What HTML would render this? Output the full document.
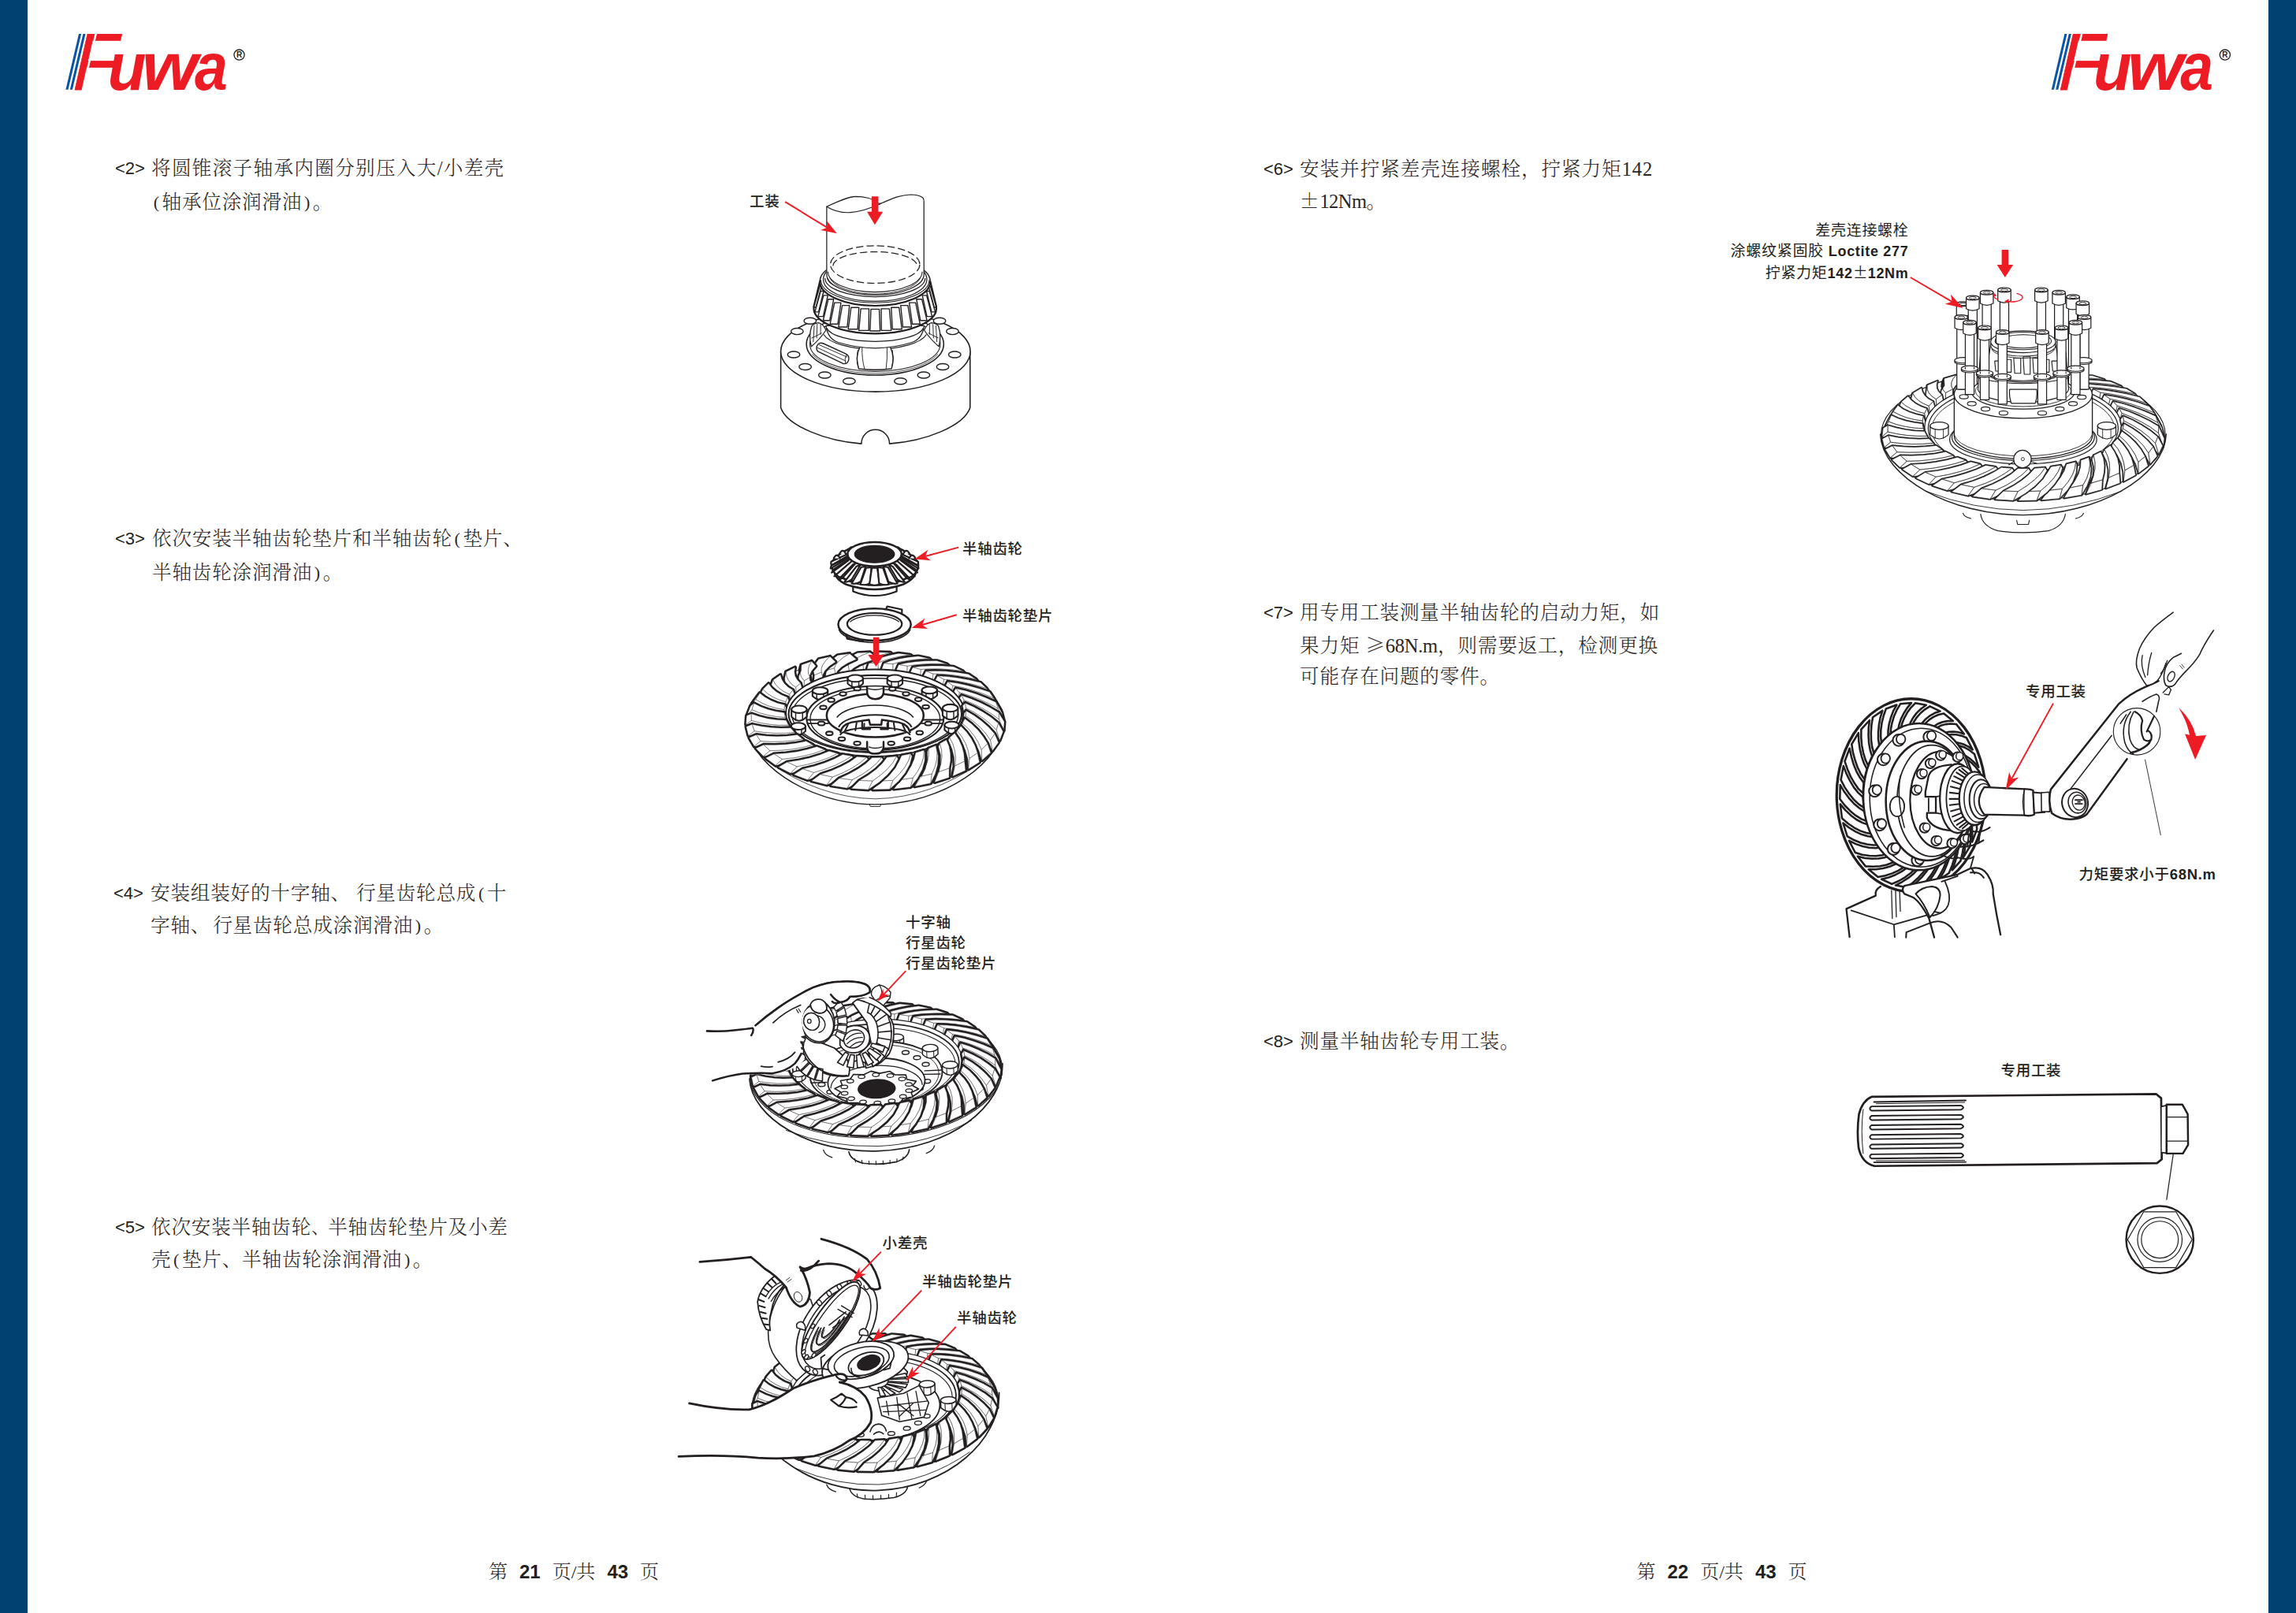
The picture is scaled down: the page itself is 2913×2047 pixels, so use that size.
<!DOCTYPE html>
<html lang="zh"><head><meta charset="utf-8"><title>Fuwa</title><style>
*{margin:0;padding:0;box-sizing:border-box}
html,body{width:2913px;height:2047px;background:#fff;overflow:hidden}
body{position:relative;font-family:"Liberation Serif","Noto Serif CJK SC",serif;color:#231f20}
.bar{position:absolute;top:0;height:2047px;background:#014171}
.t{position:absolute;white-space:nowrap;font-size:24.6px;line-height:43px;height:43px;font-weight:300;letter-spacing:0.8px;text-align:justify;text-align-last:justify;color:#2a2526}
.t.nj{text-align:left;text-align-last:left}
.p{display:inline-block;font-size:22px;position:relative;top:-1.5px;text-align:center;text-align-last:center;overflow:visible}
.fw{font-family:'Noto Serif CJK SC',serif;font-feature-settings:'fwid'}
.n{position:absolute;white-space:nowrap;font-family:"Liberation Sans","Noto Sans CJK SC",sans-serif;font-size:22px;line-height:43px;height:43px;color:#231f20}
.lb{position:absolute;white-space:nowrap;font-family:"Liberation Sans","Noto Sans CJK SC",sans-serif;font-size:18.5px;line-height:26px;color:#231f20;font-weight:500;letter-spacing:0.7px;margin-top:0.6px}
.pm{font-family:"Noto Sans CJK SC",sans-serif;display:inline-block;width:19px;text-align:center}
.ft{position:absolute;white-space:nowrap;font-size:24px;line-height:30px;color:#2a2526;word-spacing:9px;font-weight:300}
.ft b{font-family:"Liberation Sans",sans-serif;font-weight:700;font-size:24px;color:#231f20}
svg{position:absolute;left:0;top:0;overflow:visible}
</style></head><body>
<div class="bar" style="left:0;width:35px"></div>
<div class="bar" style="left:2878px;width:35px"></div>
<div class="n" style="left:146px;top:191.5px">&lt;2&gt;</div>
<div class="t" style="left:192px;top:192px;width:448px">将圆锥滚子轴承内圈分别压入大/小差壳</div>
<div class="t nj" style="left:192px;top:235px"><span class="p" style="width:13.5px">(</span>轴承位涂润滑油<span class="p" style="width:13.5px">)</span>。</div>
<div class="n" style="left:146px;top:661.5px">&lt;3&gt;</div>
<div class="t" style="left:193px;top:662px;width:455px">依次安装半轴齿轮垫片和半轴齿轮<span class="p" style="width:13.5px">(</span>垫片、</div>
<div class="t nj" style="left:193px;top:705px">半轴齿轮涂润滑油<span class="p" style="width:13.5px">)</span>。</div>
<div class="n" style="left:144px;top:1111.5px">&lt;4&gt;</div>
<div class="t" style="left:191px;top:1112px;width:448px">安装组装好的十字轴、 行星齿轮总成<span class="p" style="width:13.5px">(</span>十</div>
<div class="t nj" style="left:191px;top:1153px">字轴、<span style="margin-left:3px"></span>行星齿轮总成涂润滑油<span class="p" style="width:13.5px">)</span>。</div>
<div class="n" style="left:146px;top:1535.5px">&lt;5&gt;</div>
<div class="t" style="left:192px;top:1536px;width:449px">依次安装半轴齿轮<span class="p" style="width:21px;text-align:left">、</span>半轴齿轮垫片及小差</div>
<div class="t nj" style="left:192px;top:1577px">壳<span class="p" style="width:13.5px">(</span>垫片、半轴齿轮涂润滑油<span class="p" style="width:13.5px">)</span>。</div>
<div class="n" style="left:1603px;top:192.5px">&lt;6&gt;</div>
<div class="t" style="left:1649px;top:193px;width:448px">安装并拧紧差壳连接螺栓，拧紧力矩142</div>
<div class="t nj" style="left:1649px;top:231.5px"><span class="fw">±</span><span style="letter-spacing:-0.6px">12Nm</span>。</div>
<div class="n" style="left:1603px;top:755.5px">&lt;7&gt;</div>
<div class="t" style="left:1649px;top:756px;width:455px">用专用工装测量半轴齿轮的启动力矩，如</div>
<div class="t" style="left:1649px;top:796px;width:455px">果力矩<span class="fw" style="margin-left:7px">≥</span><span style="letter-spacing:-0.3px">68N.m</span>，则需要返工，检测更换</div>
<div class="t nj" style="left:1649px;top:837px">可能存在问题的零件。</div>
<div class="n" style="left:1603px;top:1299.5px">&lt;8&gt;</div>
<div class="t nj" style="left:1649px;top:1300px">测量半轴齿轮专用工装。</div>
<div class="ft" style="left:620px;top:1980px">第 <b>21</b> 页/共 <b>43</b> 页</div>
<div class="ft" style="left:2076.5px;top:1980px">第 <b>22</b> 页/共 <b>43</b> 页</div>
<svg width="2913" height="2047" viewBox="0 0 2913 2047">
<polygon points="83.4,113.8 86.5,113.8 103.1,43.0 100.0,43.0" fill="#0a55a3"/>
<polygon points="88.8,113.8 91.9,113.8 108.5,43.0 105.4,43.0" fill="#0a55a3"/>
<text x="0" y="0" font-family="Liberation Sans, sans-serif" font-style="italic" font-weight="400" font-size="98.5" fill="#ed1c24" stroke="#ed1c24" stroke-width="0.8" stroke-linejoin="round" transform="translate(92.2 113.8) skewX(-3.3) scale(0.9 1.04)">F</text>
<polygon points="120.6,42.0 123.2,42.0 112.4,88.0 109.8,88.0" fill="#fff"/>
<text x="0" y="0" font-family="Liberation Sans, sans-serif" font-style="italic" font-weight="700" font-size="85.5" fill="#ed1c24" transform="translate(136.7 113.8) scale(0.93 1)">u</text>
<text x="0" y="0" font-family="Liberation Sans, sans-serif" font-style="italic" font-weight="700" font-size="85.5" fill="#ed1c24" transform="translate(179.9 113.8) scale(1.07 1)">w</text>
<text x="0" y="0" font-family="Liberation Sans, sans-serif" font-style="italic" font-weight="700" font-size="85.5" fill="#ed1c24" transform="translate(246.9 113.8) scale(0.88 1)">a</text>
<circle cx="303.5" cy="69.6" r="6.6" fill="none" stroke="#231f20" stroke-width="1.3"/>
<text x="303.5" y="73.2" text-anchor="middle" font-family="Liberation Sans, sans-serif" font-size="10" font-weight="700" fill="#231f20">R</text>
<polygon points="2602.8,113.8 2605.9,113.8 2622.5,43.0 2619.4,43.0" fill="#0a55a3"/>
<polygon points="2608.2,113.8 2611.3,113.8 2627.9,43.0 2624.8,43.0" fill="#0a55a3"/>
<text x="0" y="0" font-family="Liberation Sans, sans-serif" font-style="italic" font-weight="400" font-size="98.5" fill="#ed1c24" stroke="#ed1c24" stroke-width="0.8" stroke-linejoin="round" transform="translate(2611.6 113.8) skewX(-3.3) scale(0.9 1.04)">F</text>
<polygon points="2640.0,42.0 2642.6,42.0 2631.8,88.0 2629.2,88.0" fill="#fff"/>
<text x="0" y="0" font-family="Liberation Sans, sans-serif" font-style="italic" font-weight="700" font-size="85.5" fill="#ed1c24" transform="translate(2656.1 113.8) scale(0.93 1)">u</text>
<text x="0" y="0" font-family="Liberation Sans, sans-serif" font-style="italic" font-weight="700" font-size="85.5" fill="#ed1c24" transform="translate(2699.3 113.8) scale(1.07 1)">w</text>
<text x="0" y="0" font-family="Liberation Sans, sans-serif" font-style="italic" font-weight="700" font-size="85.5" fill="#ed1c24" transform="translate(2766.3 113.8) scale(0.88 1)">a</text>
<circle cx="2822.9" cy="69.6" r="6.6" fill="none" stroke="#231f20" stroke-width="1.3"/>
<text x="2822.9" y="73.2" text-anchor="middle" font-family="Liberation Sans, sans-serif" font-size="10" font-weight="700" fill="#231f20">R</text>
</svg>

<svg width="2913" height="2047" viewBox="0 0 2913 2047">
<g transform="translate(800 150) scale(0.30992)">
<path d="M615,955 L615,1185 C640,1260 800,1322 945,1333 A57,57 0 0 1 1060,1333 C1210,1322 1365,1260 1390,1185 L1390,955" fill="#fff" stroke="#231f20" stroke-width="5" stroke-linejoin="round" stroke-linecap="round" />
<ellipse cx="1003" cy="955" rx="388" ry="165" fill="#fff" stroke="#231f20" stroke-width="5"/>
<ellipse cx="1001" cy="925" rx="281" ry="127" fill="none" stroke="#231f20" stroke-width="5" />
<ellipse cx="1001" cy="925" rx="267" ry="112" fill="none" stroke="#231f20" stroke-width="3.5" />
<path d="M1258.5,966.0 A274,120 0 0 1 743.5,966.0" fill="none" stroke="#231f20" stroke-width="2.5" />
<ellipse cx="735" cy="830" rx="25" ry="13" fill="#fff" stroke="#231f20" stroke-width="4.5"/>
<ellipse cx="682" cy="873" rx="25" ry="13" fill="#fff" stroke="#231f20" stroke-width="4.5"/>
<ellipse cx="668" cy="968" rx="25" ry="13" fill="#fff" stroke="#231f20" stroke-width="4.5"/>
<ellipse cx="715" cy="1018" rx="25" ry="13" fill="#fff" stroke="#231f20" stroke-width="4.5"/>
<ellipse cx="795" cy="1052" rx="25" ry="13" fill="#fff" stroke="#231f20" stroke-width="4.5"/>
<ellipse cx="895" cy="1077" rx="25" ry="13" fill="#fff" stroke="#231f20" stroke-width="4.5"/>
<ellipse cx="1105" cy="1077" rx="25" ry="13" fill="#fff" stroke="#231f20" stroke-width="4.5"/>
<ellipse cx="1200" cy="1052" rx="25" ry="13" fill="#fff" stroke="#231f20" stroke-width="4.5"/>
<ellipse cx="1278" cy="1018" rx="25" ry="13" fill="#fff" stroke="#231f20" stroke-width="4.5"/>
<ellipse cx="1327" cy="968" rx="25" ry="13" fill="#fff" stroke="#231f20" stroke-width="4.5"/>
<ellipse cx="1318" cy="873" rx="25" ry="13" fill="#fff" stroke="#231f20" stroke-width="4.5"/>
<ellipse cx="1265" cy="830" rx="25" ry="13" fill="#fff" stroke="#231f20" stroke-width="4.5"/>
<path d="M1211.3,885.8 A215,76 0 0 1 790.7,885.8" fill="none" stroke="#231f20" stroke-width="4" />
<path d="M742,850 Q728,890 740,935 Q775,905 800,868 Q790,845 772,838 Q755,838 742,850 Z" fill="#fff" stroke="#231f20" stroke-width="4" stroke-linejoin="round" stroke-linecap="round" />
<path d="M752,850 L748,915 M764,844 L762,900 M778,842 L778,885 M742,900 Q765,890 782,880" fill="none" stroke="#231f20" stroke-width="3" stroke-linejoin="round" stroke-linecap="round" />
<path d="M1260,850 Q1274,890 1262,935 Q1227,905 1202,868 Q1212,845 1230,838 Q1247,838 1260,850 Z" fill="#fff" stroke="#231f20" stroke-width="4" stroke-linejoin="round" stroke-linecap="round" />
<path d="M1250,850 L1254,915 M1238,844 L1240,900 M1224,842 L1224,885 M1260,900 Q1237,890 1220,880" fill="none" stroke="#231f20" stroke-width="3" stroke-linejoin="round" stroke-linecap="round" />
<path d="M940,934 Q1001,924 1062,934 Q1084,980 1068,1026 Q1001,1034 934,1026 Q918,980 940,934 Z" fill="#fff" stroke="#231f20" stroke-width="4.5" stroke-linejoin="round" stroke-linecap="round" />
<path d="M948,936 Q946,985 958,1027 M1050,936 Q1052,985 1046,1027" fill="none" stroke="#231f20" stroke-width="3" stroke-linejoin="round" stroke-linecap="round" />
<path d="M930,950 Q922,985 932,1018 M1072,950 Q1080,985 1070,1018" fill="none" stroke="#231f20" stroke-width="3" stroke-linejoin="round" stroke-linecap="round" />
<path d="M768,925 Q756,940 766,955 L870,1005 Q888,1008 893,990 Q896,972 882,965 L788,922 Q776,918 768,925 Z" fill="#fff" stroke="#231f20" stroke-width="4.5" stroke-linejoin="round" stroke-linecap="round" />
<path d="M766,940 L876,992 M772,928 L886,978 M884,968 Q874,985 880,1004" fill="none" stroke="#231f20" stroke-width="3" stroke-linejoin="round" stroke-linecap="round" />
<path d="M800,850 Q808,905 850,918 Q1001,965 1152,918 Q1194,905 1202,850 Z" fill="#fff" stroke="#231f20" stroke-width="4" stroke-linejoin="round" stroke-linecap="round" />
<path d="M1199.1,858.9 A200,64 0 0 1 802.9,858.9" fill="none" stroke="#231f20" stroke-width="4" />
<path d="M775,669 L751,780 A250,104 0 0 0 1251,780 L1227,669 Z" fill="#fff" stroke="#231f20" stroke-width="0" stroke-linejoin="round" stroke-linecap="round" />
<path d="M1251.4,770.7 A251,104 0 1 1 750.6,770.7" fill="none" stroke="#231f20" stroke-width="7" />
<path d="M1227.0,669.0 A226,99 0 0 1 775.0,669.0" fill="none" stroke="#231f20" stroke-width="7" />
<path d="M1223.0,662.0 A222,94 0 0 1 779.0,662.0" fill="none" stroke="#231f20" stroke-width="3.5" />
<path d="M775,669 L750,772 M1227,669 L1252,772" fill="none" stroke="#231f20" stroke-width="7" stroke-linejoin="round" stroke-linecap="round" />
<path d="M774.0,689.9 L781.1,689.9 L758.8,774.3 L750.4,774.3 Z" fill="#fff" stroke="#231f20" stroke-width="4.5" stroke-linejoin="round" stroke-linecap="round" />
<path d="M778.2,708.2 L790.6,708.2 L769.6,793.5 L754.7,793.5 Z" fill="#fff" stroke="#231f20" stroke-width="4.5" stroke-linejoin="round" stroke-linecap="round" />
<path d="M790.1,725.6 L807.6,725.6 L788.6,811.8 L767.5,811.8 Z" fill="#fff" stroke="#231f20" stroke-width="4.5" stroke-linejoin="round" stroke-linecap="round" />
<path d="M809.3,741.5 L831.4,741.5 L815.2,828.5 L788.5,828.5 Z" fill="#fff" stroke="#231f20" stroke-width="4.5" stroke-linejoin="round" stroke-linecap="round" />
<path d="M835.1,755.4 L861.3,755.4 L848.3,843.1 L816.7,843.1 Z" fill="#fff" stroke="#231f20" stroke-width="4.5" stroke-linejoin="round" stroke-linecap="round" />
<path d="M866.7,766.7 L896.2,766.7 L887.0,855.0 L851.4,855.0 Z" fill="#fff" stroke="#231f20" stroke-width="4.5" stroke-linejoin="round" stroke-linecap="round" />
<path d="M902.9,775.1 L934.9,775.1 L929.8,863.8 L891.2,863.8 Z" fill="#fff" stroke="#231f20" stroke-width="4.5" stroke-linejoin="round" stroke-linecap="round" />
<path d="M942.5,780.3 L976.0,780.3 L975.1,869.2 L934.7,869.2 Z" fill="#fff" stroke="#231f20" stroke-width="4.5" stroke-linejoin="round" stroke-linecap="round" />
<path d="M984.0,782.0 L1018.0,782.0 L1021.5,871.0 L980.5,871.0 Z" fill="#fff" stroke="#231f20" stroke-width="4.5" stroke-linejoin="round" stroke-linecap="round" />
<path d="M1026.0,780.3 L1059.5,780.3 L1067.3,869.2 L1026.9,869.2 Z" fill="#fff" stroke="#231f20" stroke-width="4.5" stroke-linejoin="round" stroke-linecap="round" />
<path d="M1067.1,775.1 L1099.1,775.1 L1110.8,863.8 L1072.2,863.8 Z" fill="#fff" stroke="#231f20" stroke-width="4.5" stroke-linejoin="round" stroke-linecap="round" />
<path d="M1105.8,766.7 L1135.3,766.7 L1150.6,855.0 L1115.0,855.0 Z" fill="#fff" stroke="#231f20" stroke-width="4.5" stroke-linejoin="round" stroke-linecap="round" />
<path d="M1140.7,755.4 L1166.9,755.4 L1185.3,843.1 L1153.7,843.1 Z" fill="#fff" stroke="#231f20" stroke-width="4.5" stroke-linejoin="round" stroke-linecap="round" />
<path d="M1170.6,741.5 L1192.7,741.5 L1213.5,828.5 L1186.8,828.5 Z" fill="#fff" stroke="#231f20" stroke-width="4.5" stroke-linejoin="round" stroke-linecap="round" />
<path d="M1194.4,725.6 L1211.9,725.6 L1234.5,811.8 L1213.4,811.8 Z" fill="#fff" stroke="#231f20" stroke-width="4.5" stroke-linejoin="round" stroke-linecap="round" />
<path d="M1211.4,708.2 L1223.8,708.2 L1247.3,793.5 L1232.4,793.5 Z" fill="#fff" stroke="#231f20" stroke-width="4.5" stroke-linejoin="round" stroke-linecap="round" />
<path d="M1220.9,689.9 L1228.0,689.9 L1251.6,774.3 L1243.2,774.3 Z" fill="#fff" stroke="#231f20" stroke-width="4.5" stroke-linejoin="round" stroke-linecap="round" />
<path d="M775.0,669.0 A226,99 0 0 1 1227.0,669.0" fill="none" stroke="#231f20" stroke-width="5" />
<ellipse cx="1001" cy="660" rx="212" ry="90" fill="#fff" stroke="#231f20" stroke-width="4"/>
<path d="M1206.0,655.0 A205,76 0 0 1 796.0,655.0" fill="none" stroke="#231f20" stroke-width="4" />
<path d="M1197.0,650.0 A196,66 0 0 1 805.0,650.0" fill="none" stroke="#231f20" stroke-width="3.5" />
<path d="M803,640 L803,362 C850,340 890,322 923,321 C960,321 990,330 1000,340 C1010,350 1020,352 1030,347 C1070,330 1100,315 1146,313 Q1180,313 1197,326 Q1201,332 1201,342 L1201,640 A199,84 0 0 1 803,640 Z" fill="#fff" stroke="#231f20" stroke-width="4" stroke-linejoin="round" stroke-linecap="round" />
<path d="M803,362 C840,385 870,388 900,386 C940,383 975,372 1025,350" fill="none" stroke="#231f20" stroke-width="4" stroke-linejoin="round" stroke-linecap="round" />
<path d="M1194.0,628.0 A193,84 0 0 1 808.0,628.0" fill="none" stroke="#231f20" stroke-width="3.5" />
<path d="M1186.1,653.9 A188,80 0 0 1 815.9,653.9" fill="none" stroke="#231f20" stroke-width="3" />
<ellipse cx="1001" cy="599" rx="183" ry="77" fill="none" stroke="#231f20" stroke-width="4" stroke-dasharray="30 13"/>
<path d="M829,605 A172,58 0 0 1 1173,605" fill="none" stroke="#231f20" stroke-width="4" stroke-dasharray="30 13"/>
<polygon points="987,320 1014.5,320 1014.5,383 1033,383 1000,436 968,383 987,383" fill="#ed1c24"/>
<line x1="632.7" y1="342.3" x2="805.4" y2="448.0" stroke="#ed1c24" stroke-width="6.2"/><polygon points="844.7,472 778.1,458.2 805.4,448.0 802.1,419.0" fill="#ed1c24"/>
</g>
</svg>
<div class="lb" style="left:951px;top:242px">工装</div>

<svg width="2913" height="2047" viewBox="0 0 2913 2047">
<g transform="translate(930 810) scale(0.15679)">
<path d="M105,660 C105,1000 600,1345 1150,1345 C1700,1345 2195,1000 2195,660" fill="#fff" stroke="#231f20" stroke-width="9" stroke-linejoin="round" stroke-linecap="round" />
<path d="M300,1010 Q700,1290 1150,1300 Q1600,1290 2000,1010" fill="none" stroke="#231f20" stroke-width="5" stroke-linejoin="round" stroke-linecap="round" />
<path d="M1105,1345 L1112,1362 L1190,1362 L1196,1345" fill="none" stroke="#231f20" stroke-width="6" stroke-linejoin="round" stroke-linecap="round" />
<ellipse cx="1150" cy="690" rx="1040" ry="540" fill="#fff" stroke="#231f20" stroke-width="6"/>
<g fill="#fff" stroke="#231f20" stroke-linejoin="round"><g stroke-width="30"><path id="b1" d="M1051,204 1089,180 1139,156 1201,135 1274,116 1342,174 1246,190 1165,211 1101,235 1057,261Z M964,270 980,211 1051,204 1057,261Z M980,211 1010,185 1053,159 1108,135 1174,113 1274,116 1201,135 1139,156 1089,180 1051,204Z"/></g><use href="#b1" stroke-width="2.2"/>
<g stroke-width="30"><path id="b2" d="M1173,200 1221,180 1283,162 1354,146 1436,134 1508,198 1402,205 1310,219 1233,237 1176,258Z M1081,259 1100,201 1173,200 1176,258Z M1100,201 1142,178 1197,157 1263,138 1339,122 1436,134 1354,146 1283,162 1221,180 1173,200Z"/></g><use href="#b2" stroke-width="2.2"/>
<g stroke-width="30"><path id="b3" d="M933,217 958,190 996,163 1046,137 1108,113 1170,165 1087,189 1020,216 970,245 941,274Z M852,291 864,230 933,217 941,274Z M864,230 882,202 912,174 955,145 1009,118 1108,113 1046,137 996,163 958,190 933,217Z"/></g><use href="#b3" stroke-width="2.2"/>
<g stroke-width="30"><path id="b4" d="M1294,208 1352,192 1422,179 1502,170 1590,165 1665,235 1552,233 1451,239 1363,249 1294,265Z M1200,258 1221,202 1294,208 1294,265Z M1221,202 1274,183 1339,167 1414,154 1499,145 1590,165 1502,170 1422,179 1352,192 1294,208Z"/></g><use href="#b4" stroke-width="2.2"/>
<g stroke-width="30"><path id="b5" d="M820,241 832,212 858,183 895,153 944,124 998,170 929,201 878,233 844,266 830,297Z M748,321 756,260 820,241 830,297Z M756,260 761,231 778,200 807,168 848,137 944,124 895,153 858,183 832,212 820,241Z"/></g><use href="#b5" stroke-width="2.2"/>
<g stroke-width="30"><path id="b6" d="M1410,225 1477,215 1554,208 1640,206 1732,209 1808,286 1691,274 1583,270 1488,273 1408,282Z M1317,268 1341,213 1410,225 1408,282Z M1341,213 1403,200 1476,189 1558,183 1649,182 1732,209 1640,206 1554,208 1477,215 1410,225Z"/></g><use href="#b6" stroke-width="2.2"/>
<g stroke-width="30"><path id="b7" d="M716,274 715,245 727,214 750,181 785,148 830,191 778,227 743,263 726,297 728,328Z M655,360 659,298 716,274 728,328Z M659,298 651,269 654,237 668,204 694,169 785,148 750,181 727,214 715,245 716,274Z"/></g><use href="#b7" stroke-width="2.2"/>
<g stroke-width="30"><path id="b8" d="M1520,252 1593,248 1676,248 1764,254 1859,265 1932,348 1815,326 1704,313 1603,307 1515,309Z M1430,287 1455,235 1520,252 1515,309Z M1455,235 1525,227 1604,223 1691,224 1785,230 1859,265 1764,254 1676,248 1593,248 1520,252Z"/></g><use href="#b8" stroke-width="2.2"/>
<g stroke-width="30"><path id="b9" d="M576,406 545,378 531,343 533,304 552,262 553,215 543,251 543,285 554,316 576,344Z M624,315 610,287 608,255 616,221 636,186 670,225 636,265 620,303 620,338 638,369Z M576,406 576,344 624,315 638,369Z M576,344 554,316 543,285 543,251 553,215 636,186 616,221 608,255 610,287 624,315Z"/></g><use href="#b9" stroke-width="2.2"/>
<g stroke-width="30"><path id="b10" d="M1620,288 1698,290 1782,298 1872,312 1966,331 2036,420 1920,388 1809,365 1705,351 1612,345Z M1535,316 1562,266 1620,288 1612,345Z M1562,266 1637,264 1720,267 1810,276 1904,290 1966,331 1872,312 1782,298 1698,290 1620,288Z"/></g><use href="#b10" stroke-width="2.2"/>
<g stroke-width="30"><path id="b11" d="M512,458 467,433 436,400 420,362 419,320 429,272 434,308 449,341 473,371 508,396Z M512,458 508,396 546,364 562,416Z M508,396 473,371 449,341 434,308 429,272 502,236 497,273 503,306 520,337 546,364Z"/></g><use href="#b11" stroke-width="2.2"/>
<g stroke-width="30"><path id="b12" d="M1707,333 1787,342 1872,357 1960,378 2051,405 2115,499 2005,458 1897,426 1793,402 1697,388Z M1630,353 1656,305 1707,333 1697,388Z M1656,305 1735,310 1820,321 1910,337 2003,359 2051,405 1960,378 1872,357 1787,342 1707,333Z"/></g><use href="#b12" stroke-width="2.2"/>
<g stroke-width="30"><path id="b13" d="M466,515 407,494 361,465 326,429 306,387 324,338 344,373 374,405 412,432 457,454Z M466,515 457,454 485,419 501,469Z M457,454 412,432 374,405 344,373 324,338 384,297 395,333 416,366 446,395 485,419Z"/></g><use href="#b13" stroke-width="2.2"/>
<g stroke-width="30"><path id="b14" d="M1779,384 1859,399 1942,422 2026,450 2111,485 2168,585 2067,534 1964,493 1863,461 1766,439Z M1712,398 1737,352 1779,384 1766,439Z M2128,516 2078,436 2111,485 2168,585Z M1737,352 1818,364 1902,382 1990,406 2078,436 2111,485 2026,450 1942,422 1859,399 1779,384Z"/></g><use href="#b14" stroke-width="2.2"/>
<g stroke-width="30"><path id="b15" d="M438,575 368,560 306,535 255,503 216,464 242,413 277,446 320,474 370,497 426,515Z M438,575 426,515 442,478 459,527Z M426,515 370,497 320,474 277,446 242,413 288,367 314,402 349,432 392,458 442,478Z"/></g><use href="#b15" stroke-width="2.2"/>
<g stroke-width="30"><path id="b16" d="M1833,440 1911,463 1990,492 2069,528 2145,569 2193,674 2103,615 2009,565 1913,524 1819,494Z M1778,449 1802,406 1833,440 1819,494Z M2175,602 2128,518 2145,569 2193,674Z M1802,406 1882,424 1964,449 2046,481 2128,518 2145,569 2069,528 1990,492 1911,463 1833,440Z"/></g><use href="#b16" stroke-width="2.2"/></g>
<g fill="#fff" stroke="#231f20" stroke-linejoin="round"><g stroke-width="30"><path id="b17" d="M430,625 350,615 275,595 208,567 152,531 184,495 233,524 288,548 349,566 414,578Z M430,625 414,578 419,539 435,576Z M152,531 184,495 216,444 201,464Z M414,578 349,566 288,548 233,524 184,495 216,444 257,475 305,502 359,524 419,539Z"/></g><use href="#b17" stroke-width="2.2"/>
<g stroke-width="30"><path id="b18" d="M442,687 354,684 268,671 187,649 115,619 153,579 214,604 281,622 351,635 422,641Z M442,687 422,641 415,602 431,638Z M115,619 153,579 169,526 142,548Z M422,641 351,635 281,622 214,604 153,579 169,526 223,554 283,576 347,592 415,602Z"/></g><use href="#b18" stroke-width="2.2"/></g>
<g fill="#fff" stroke="#231f20" stroke-linejoin="round"><g stroke-width="30"><path id="b19" d="M1869,501 1943,530 2016,566 2086,608 2152,656 2190,747 2114,682 2031,626 1943,578 1854,541Z M1828,494 1849,463 1869,501 1854,541Z M2195,676 2151,603 2152,656 2190,747Z M1849,463 1926,489 2003,521 2078,559 2151,603 2152,656 2086,608 2016,566 1943,530 1869,501Z"/></g><use href="#b19" stroke-width="2.2"/></g>
<ellipse cx="1150" cy="604" rx="722" ry="352" fill="#fff" stroke="#231f20" stroke-width="11.6"/>
<ellipse cx="1150" cy="612" rx="700" ry="313" fill="#fff" stroke="#231f20" stroke-width="13.0"/>
<ellipse cx="1150" cy="620" rx="672" ry="296" fill="none" stroke="#231f20" stroke-width="8.7" />
<path d="M928,325 L928,367 Q959.0,396.4 990,397.8 Q1021.0,396.4 1052,367 L1052,325 Z" fill="#fff" stroke="#231f20" stroke-width="13.0" stroke-linejoin="round" stroke-linecap="round" />
<ellipse cx="990" cy="325" rx="62" ry="28" fill="#fff" stroke="#231f20" stroke-width="13.0"/>
<path d="M962.1,350.2 L962.1,393.6 M1017.9,350.2 L1017.9,393.6" fill="none" stroke="#231f20" stroke-width="9.1" stroke-linejoin="round" stroke-linecap="round" />
<path d="M1248,325 L1248,367 Q1279.0,396.4 1310,397.8 Q1341.0,396.4 1372,367 L1372,325 Z" fill="#fff" stroke="#231f20" stroke-width="13.0" stroke-linejoin="round" stroke-linecap="round" />
<ellipse cx="1310" cy="325" rx="62" ry="28" fill="#fff" stroke="#231f20" stroke-width="13.0"/>
<path d="M1282.1,350.2 L1282.1,393.6 M1337.9,350.2 L1337.9,393.6" fill="none" stroke="#231f20" stroke-width="9.1" stroke-linejoin="round" stroke-linecap="round" />
<path d="M643,425 L643,467 Q674.0,496.4 705,497.8 Q736.0,496.4 767,467 L767,425 Z" fill="#fff" stroke="#231f20" stroke-width="13.0" stroke-linejoin="round" stroke-linecap="round" />
<ellipse cx="705" cy="425" rx="62" ry="28" fill="#fff" stroke="#231f20" stroke-width="13.0"/>
<path d="M677.1,450.2 L677.1,493.6 M732.9,450.2 L732.9,493.6" fill="none" stroke="#231f20" stroke-width="9.1" stroke-linejoin="round" stroke-linecap="round" />
<path d="M1528,420 L1528,462 Q1559.0,491.4 1590,492.8 Q1621.0,491.4 1652,462 L1652,420 Z" fill="#fff" stroke="#231f20" stroke-width="13.0" stroke-linejoin="round" stroke-linecap="round" />
<ellipse cx="1590" cy="420" rx="62" ry="28" fill="#fff" stroke="#231f20" stroke-width="13.0"/>
<path d="M1562.1,445.2 L1562.1,488.6 M1617.9,445.2 L1617.9,488.6" fill="none" stroke="#231f20" stroke-width="9.1" stroke-linejoin="round" stroke-linecap="round" />
<ellipse cx="1150" cy="645" rx="555" ry="258" fill="#fff" stroke="#231f20" stroke-width="13.0"/>
<ellipse cx="1150" cy="652" rx="525" ry="240" fill="none" stroke="#231f20" stroke-width="8.7" />
<path d="M600,660 L760,660 M605,690 L770,690 M1540,660 L1700,660 M1530,690 L1695,690" fill="none" stroke="#231f20" stroke-width="11.6" stroke-linejoin="round" stroke-linecap="round" />
<path d="M473,575 L473,635 Q504.0,666.5 535,668.0 Q566.0,666.5 597,635 L597,575 Z" fill="#fff" stroke="#231f20" stroke-width="13.0" stroke-linejoin="round" stroke-linecap="round" />
<ellipse cx="535" cy="575" rx="62" ry="30" fill="#fff" stroke="#231f20" stroke-width="13.0"/>
<path d="M507.1,602.0 L507.1,663.5 M562.9,602.0 L562.9,663.5" fill="none" stroke="#231f20" stroke-width="9.1" stroke-linejoin="round" stroke-linecap="round" />
<path d="M1696,565 L1696,625 Q1727.0,656.5 1758,658.0 Q1789.0,656.5 1820,625 L1820,565 Z" fill="#fff" stroke="#231f20" stroke-width="13.0" stroke-linejoin="round" stroke-linecap="round" />
<ellipse cx="1758" cy="565" rx="62" ry="30" fill="#fff" stroke="#231f20" stroke-width="13.0"/>
<path d="M1730.1,592.0 L1730.1,653.5 M1785.9,592.0 L1785.9,653.5" fill="none" stroke="#231f20" stroke-width="9.1" stroke-linejoin="round" stroke-linecap="round" />
<path d="M470,712 L470,752 Q499.0,781.4 528,782.8 Q557.0,781.4 586,752 L586,712 Z" fill="#fff" stroke="#231f20" stroke-width="13.0" stroke-linejoin="round" stroke-linecap="round" />
<ellipse cx="528" cy="712" rx="58" ry="28" fill="#fff" stroke="#231f20" stroke-width="13.0"/>
<path d="M501.9,737.2 L501.9,778.6 M554.1,737.2 L554.1,778.6" fill="none" stroke="#231f20" stroke-width="9.1" stroke-linejoin="round" stroke-linecap="round" />
<path d="M1712,702 L1712,742 Q1741.0,771.4 1770,772.8 Q1799.0,771.4 1828,742 L1828,702 Z" fill="#fff" stroke="#231f20" stroke-width="13.0" stroke-linejoin="round" stroke-linecap="round" />
<ellipse cx="1770" cy="702" rx="58" ry="28" fill="#fff" stroke="#231f20" stroke-width="13.0"/>
<path d="M1743.9,727.2 L1743.9,768.6 M1796.1,727.2 L1796.1,768.6" fill="none" stroke="#231f20" stroke-width="9.1" stroke-linejoin="round" stroke-linecap="round" />
<ellipse cx="1005" cy="408" rx="27" ry="15" fill="#fff" stroke="#231f20" stroke-width="13.0"/>
<ellipse cx="1290" cy="410" rx="27" ry="15" fill="#fff" stroke="#231f20" stroke-width="13.0"/>
<ellipse cx="890" cy="450" rx="27" ry="15" fill="#fff" stroke="#231f20" stroke-width="13.0"/>
<ellipse cx="1400" cy="450" rx="27" ry="15" fill="#fff" stroke="#231f20" stroke-width="13.0"/>
<ellipse cx="795" cy="500" rx="27" ry="15" fill="#fff" stroke="#231f20" stroke-width="13.0"/>
<ellipse cx="1500" cy="495" rx="27" ry="15" fill="#fff" stroke="#231f20" stroke-width="13.0"/>
<ellipse cx="730" cy="560" rx="27" ry="15" fill="#fff" stroke="#231f20" stroke-width="13.0"/>
<ellipse cx="1560" cy="555" rx="27" ry="15" fill="#fff" stroke="#231f20" stroke-width="13.0"/>
<ellipse cx="715" cy="690" rx="27" ry="15" fill="#fff" stroke="#231f20" stroke-width="13.0"/>
<ellipse cx="1580" cy="690" rx="27" ry="15" fill="#fff" stroke="#231f20" stroke-width="13.0"/>
<ellipse cx="780" cy="770" rx="27" ry="15" fill="#fff" stroke="#231f20" stroke-width="13.0"/>
<ellipse cx="1510" cy="765" rx="27" ry="15" fill="#fff" stroke="#231f20" stroke-width="13.0"/>
<ellipse cx="880" cy="815" rx="27" ry="15" fill="#fff" stroke="#231f20" stroke-width="13.0"/>
<ellipse cx="1410" cy="815" rx="27" ry="15" fill="#fff" stroke="#231f20" stroke-width="13.0"/>
<ellipse cx="1005" cy="850" rx="27" ry="15" fill="#fff" stroke="#231f20" stroke-width="13.0"/>
<ellipse cx="1280" cy="850" rx="27" ry="15" fill="#fff" stroke="#231f20" stroke-width="13.0"/>
<ellipse cx="1150" cy="625" rx="392" ry="176" fill="#fff" stroke="#231f20" stroke-width="15.9"/>
<path d="M839.9,640.7 A330,150 0 0 1 1460.1,640.7" fill="none" stroke="#231f20" stroke-width="10.2" />
<path d="M854.6,719.2 A300,120 0 0 1 1445.4,719.2" fill="none" stroke="#231f20" stroke-width="13.0" />
<path d="M870,760 Q880,700 960,680 L1100,660 L1110,700 L1200,700 L1205,660 L1340,680 Q1420,700 1432,760" fill="#fff" stroke="#231f20" stroke-width="15.9" stroke-linejoin="round" stroke-linecap="round" />
<path d="M900,760 L930,700 M990,745 L1000,685 M1060,735 L1062,690 M1250,735 L1248,690 M1310,745 L1300,685 M1400,760 L1372,700" fill="none" stroke="#231f20" stroke-width="13.0" stroke-linejoin="round" stroke-linecap="round" />
<path d="M866.1,783.9 A285,70 0 0 1 1433.9,783.9" fill="none" stroke="#231f20" stroke-width="13.0" />
<path d="M1045,672 L1045,735 L1110,735 M1255,672 L1255,735 L1195,735" fill="none" stroke="#231f20" stroke-width="14.5" stroke-linejoin="round" stroke-linecap="round" />
<path d="M1085,392 L1085,440 Q1090,492 1150,492 Q1212,492 1218,440 L1218,392" fill="#fff" stroke="#231f20" stroke-width="15.9" stroke-linejoin="round" stroke-linecap="round" />
<path d="M1095,408 Q1150,425 1208,408" fill="none" stroke="#231f20" stroke-width="8.7" stroke-linejoin="round" stroke-linecap="round" />
<path d="M1085,838 L1085,885 Q1090,935 1150,935 Q1212,935 1218,885 L1218,838" fill="#fff" stroke="#231f20" stroke-width="15.9" stroke-linejoin="round" stroke-linecap="round" />
<path d="M1100,880 Q1150,900 1205,880" fill="none" stroke="#231f20" stroke-width="8.7" stroke-linejoin="round" stroke-linecap="round" />
<g fill="#fff" stroke="#231f20" stroke-linejoin="round"><g stroke-width="30"><path id="b20" d="M1885,565 1953,600 2017,642 2077,689 2131,742 2158,826 2098,756 2028,694 1951,640 1869,596Z M1858,547 1878,524 1885,565 1869,596Z M2185,755 2147,688 2131,742 2158,826Z M1878,524 1949,556 2019,594 2086,638 2147,688 2131,742 2077,689 2017,642 1953,600 1885,565Z"/></g><use href="#b20" stroke-width="2.2"/>
<g stroke-width="30"><path id="b21" d="M472,740 379,745 285,738 193,723 105,698 149,666 222,685 297,697 374,704 451,703Z M472,740 451,703 431,664 446,693Z M105,698 149,666 148,611 110,627Z M451,703 374,704 297,697 222,685 149,666 148,611 214,633 284,650 357,660 431,664Z"/></g><use href="#b21" stroke-width="2.2"/>
<g stroke-width="30"><path id="b22" d="M1881,628 1941,669 1995,716 2043,768 2083,825 2099,910 2056,836 2002,768 1937,708 1865,658Z M1870,609 1886,587 1881,628 1865,658Z M2148,843 2117,773 2083,825 2099,910Z M1886,587 1951,625 2012,669 2067,718 2117,773 2083,825 2043,768 1995,716 1941,669 1881,628Z"/></g><use href="#b22" stroke-width="2.2"/>
<g stroke-width="30"><path id="b23" d="M522,797 426,809 325,811 224,804 125,788 173,751 255,763 337,769 419,769 499,762Z M125,788 173,751 155,697 107,716Z M499,762 419,769 337,769 255,763 173,751 155,697 231,713 309,723 388,727 466,725Z"/></g><use href="#b23" stroke-width="2.2"/>
<g stroke-width="30"><path id="b24" d="M1857,690 1907,735 1949,786 1984,842 2010,902 2014,988 1990,911 1952,839 1902,775 1841,719Z M1862,671 1875,650 1857,690 1841,719Z M2084,926 2060,853 2010,902 2014,988Z M1875,650 1931,693 1981,741 2024,795 2060,853 2010,902 1984,842 1949,786 1907,735 1857,690Z"/></g><use href="#b24" stroke-width="2.2"/>
<g stroke-width="30"><path id="b25" d="M588,848 492,869 388,879 281,881 172,874 223,833 312,838 399,836 484,829 564,815Z M172,874 223,833 188,781 132,805Z M564,815 484,829 399,836 312,838 223,833 188,781 272,791 357,794 440,791 520,781Z"/></g><use href="#b25" stroke-width="2.2"/>
<g stroke-width="30"><path id="b26" d="M1814,749 1852,798 1882,852 1903,911 1913,972 1905,1058 1901,979 1880,906 1846,837 1799,777Z M1994,1003 1978,928 1913,972 1905,1058Z M1844,711 1889,758 1928,811 1957,868 1978,928 1913,972 1903,911 1882,852 1852,798 1814,749Z"/></g><use href="#b26" stroke-width="2.2"/>
<g stroke-width="30"><path id="b27" d="M670,893 576,922 472,942 361,953 246,955 299,910 392,907 481,898 567,883 645,862Z M246,955 299,910 248,862 185,891Z M645,862 567,883 481,898 392,907 299,910 248,862 338,863 426,859 512,849 592,833Z"/></g><use href="#b27" stroke-width="2.2"/>
<g stroke-width="30"><path id="b28" d="M1752,803 1779,855 1795,912 1801,971 1796,1033 1776,1117 1791,1039 1789,965 1772,894 1738,830Z M1881,1070 1873,995 1796,1033 1776,1117Z M1794,769 1828,819 1853,875 1868,933 1873,995 1796,1033 1801,971 1795,912 1779,855 1752,803Z"/></g><use href="#b28" stroke-width="2.2"/>
<g stroke-width="30"><path id="b29" d="M765,930 676,967 574,996 463,1016 345,1029 398,979 492,968 582,951 665,929 740,901Z M345,1029 398,979 332,936 264,970Z M740,901 665,929 582,951 492,968 398,979 332,936 426,930 516,918 600,900 678,877Z"/></g><use href="#b29" stroke-width="2.2"/>
<g stroke-width="30"><path id="b30" d="M1674,852 1688,906 1690,963 1681,1022 1661,1083 1630,1165 1664,1089 1680,1015 1680,944 1662,877Z M1748,1128 1749,1052 1661,1083 1630,1165Z M1726,822 1748,874 1759,931 1760,991 1749,1052 1661,1083 1681,1022 1690,963 1688,906 1674,852Z"/></g><use href="#b30" stroke-width="2.2"/>
<g stroke-width="30"><path id="b31" d="M870,959 789,1003 692,1040 583,1070 466,1093 518,1039 611,1019 698,995 777,966 847,932Z M466,1093 518,1039 439,1002 368,1042Z M847,932 777,966 698,995 611,1019 518,1039 439,1002 533,987 622,968 704,943 778,913Z"/></g><use href="#b31" stroke-width="2.2"/>
<g stroke-width="30"><path id="b32" d="M1645,886 1660,952 1656,1024 1636,1098 1599,1173 1609,1098 1635,1038 1649,979 1652,922 1643,868Z M1582,893 1583,948 1571,1004 1547,1062 1512,1120 1470,1199 1522,1127 1557,1055 1574,985 1572,918Z M1599,1173 1609,1098 1512,1120 1470,1199Z M1643,868 1652,922 1649,979 1635,1038 1609,1098 1512,1120 1547,1062 1571,1004 1583,948 1582,893Z"/></g><use href="#b32" stroke-width="2.2"/>
<g stroke-width="30"><path id="b33" d="M983,978 911,1029 822,1074 719,1113 605,1146 654,1087 744,1060 827,1028 899,992 961,953Z M605,1146 654,1087 565,1057 492,1104Z M961,953 899,992 827,1028 744,1060 654,1087 565,1057 658,1035 743,1008 820,976 887,941Z"/></g><use href="#b33" stroke-width="2.2"/>
<g stroke-width="30"><path id="b34" d="M1552,925 1551,992 1531,1062 1493,1133 1437,1204 1456,1131 1496,1074 1525,1017 1542,960 1546,906Z M1437,1204 1456,1131 1353,1145 1302,1220Z M1546,906 1542,960 1525,1017 1496,1074 1456,1131 1353,1145 1402,1090 1440,1035 1465,980 1478,926Z"/></g><use href="#b34" stroke-width="2.2"/>
<g stroke-width="30"><path id="b35" d="M1100,988 1040,1044 961,1096 867,1144 759,1186 805,1123 889,1089 964,1050 1028,1008 1081,964Z M759,1186 805,1123 707,1102 635,1155Z M1081,964 1028,1008 964,1050 889,1089 805,1123 707,1102 795,1072 875,1037 945,1000 1004,958Z"/></g><use href="#b35" stroke-width="2.2"/>
<g stroke-width="30"><path id="b36" d="M1448,955 1431,1021 1394,1089 1340,1156 1268,1222 1294,1150 1348,1097 1390,1043 1421,989 1438,935Z M1268,1222 1294,1150 1189,1155 1130,1225Z M1438,935 1421,989 1390,1043 1348,1097 1294,1150 1189,1155 1250,1105 1301,1054 1339,1002 1365,949Z"/></g><use href="#b36" stroke-width="2.2"/>
<g stroke-width="30"><path id="b37" d="M1219,987 1172,1047 1106,1106 1023,1162 924,1213 964,1146 1040,1105 1106,1060 1161,1013 1203,965Z M924,1213 964,1146 861,1133 792,1192Z M1203,965 1161,1013 1106,1060 1040,1105 964,1146 861,1133 943,1096 1015,1055 1076,1012 1125,966Z"/></g><use href="#b37" stroke-width="2.2"/>
<g stroke-width="30"><path id="b38" d="M1336,976 1304,1040 1251,1104 1182,1166 1095,1225 1129,1155 1195,1107 1250,1058 1293,1007 1323,955Z M1095,1225 1129,1155 1023,1151 958,1216Z M1323,955 1293,1007 1250,1058 1195,1107 1129,1155 1023,1151 1096,1107 1158,1061 1208,1012 1246,963Z"/></g><use href="#b38" stroke-width="2.2"/></g>
</g>
<g transform="translate(900 650) scale(0.24802)">
<path d="M735,380 L735,405 Q845,450 958,405 L958,380" fill="#fff" stroke="#231f20" stroke-width="8.8" stroke-linejoin="round" stroke-linecap="round" />
<path d="M640,300 Q640,340 700,370 Q845,420 990,370 Q1055,340 1058,300" fill="#fff" stroke="#231f20" stroke-width="10.0" stroke-linejoin="round" stroke-linecap="round" />
<path d="M1023.5,325.7 A190,75 0 0 1 666.5,325.7" fill="none" stroke="#231f20" stroke-width="6.2" />
<path d="M625,255 Q620,300 660,330 Q845,400 1035,330 Q1075,300 1068,255 Q1000,170 845,160 Q690,170 625,255 Z" fill="#fff" stroke="#231f20" stroke-width="10.0" stroke-linejoin="round" stroke-linecap="round" />
<path d="M714,221 L710,213 L623,253 Q620,271 629,269 Z" fill="#fff" stroke="#231f20" stroke-width="8.8" stroke-linejoin="round" stroke-linecap="round" />
<path d="M710,234 L711,225 L624,274 Q617,291 622,288 Z" fill="#fff" stroke="#231f20" stroke-width="8.8" stroke-linejoin="round" stroke-linecap="round" />
<path d="M712,246 L717,238 L635,293 Q625,311 626,309 Z" fill="#fff" stroke="#231f20" stroke-width="8.8" stroke-linejoin="round" stroke-linecap="round" />
<path d="M720,258 L730,249 L658,311 Q643,329 639,328 Z" fill="#fff" stroke="#231f20" stroke-width="8.8" stroke-linejoin="round" stroke-linecap="round" />
<path d="M734,268 L749,260 L689,328 Q670,346 661,344 Z" fill="#fff" stroke="#231f20" stroke-width="8.8" stroke-linejoin="round" stroke-linecap="round" />
<path d="M753,277 L773,269 L729,343 Q706,360 691,357 Z" fill="#fff" stroke="#231f20" stroke-width="8.8" stroke-linejoin="round" stroke-linecap="round" />
<path d="M776,282 L800,277 L774,356 Q749,370 728,365 Z" fill="#fff" stroke="#231f20" stroke-width="8.8" stroke-linejoin="round" stroke-linecap="round" />
<path d="M802,285 L829,282 L822,364 Q796,377 772,369 Z" fill="#fff" stroke="#231f20" stroke-width="8.8" stroke-linejoin="round" stroke-linecap="round" />
<path d="M831,285 L859,285 L871,369 Q845,379 819,369 Z" fill="#fff" stroke="#231f20" stroke-width="8.8" stroke-linejoin="round" stroke-linecap="round" />
<path d="M861,282 L888,285 L918,369 Q894,377 868,364 Z" fill="#fff" stroke="#231f20" stroke-width="8.8" stroke-linejoin="round" stroke-linecap="round" />
<path d="M890,277 L914,282 L962,365 Q941,370 916,356 Z" fill="#fff" stroke="#231f20" stroke-width="8.8" stroke-linejoin="round" stroke-linecap="round" />
<path d="M917,269 L937,277 L999,357 Q984,360 961,343 Z" fill="#fff" stroke="#231f20" stroke-width="8.8" stroke-linejoin="round" stroke-linecap="round" />
<path d="M941,260 L956,268 L1029,344 Q1020,346 1001,328 Z" fill="#fff" stroke="#231f20" stroke-width="8.8" stroke-linejoin="round" stroke-linecap="round" />
<path d="M960,249 L970,258 L1051,328 Q1047,329 1032,311 Z" fill="#fff" stroke="#231f20" stroke-width="8.8" stroke-linejoin="round" stroke-linecap="round" />
<path d="M973,238 L978,246 L1064,309 Q1065,311 1055,293 Z" fill="#fff" stroke="#231f20" stroke-width="8.8" stroke-linejoin="round" stroke-linecap="round" />
<path d="M979,225 L980,234 L1068,288 Q1073,291 1066,274 Z" fill="#fff" stroke="#231f20" stroke-width="8.8" stroke-linejoin="round" stroke-linecap="round" />
<path d="M980,213 L976,221 L1061,269 Q1070,271 1067,253 Z" fill="#fff" stroke="#231f20" stroke-width="8.8" stroke-linejoin="round" stroke-linecap="round" />
<path d="M636,236 Q652,204 668,236" fill="#fff" stroke="#231f20" stroke-width="8.8" stroke-linejoin="round" stroke-linecap="round" />
<path d="M666,213 Q682,181 698,213" fill="#fff" stroke="#231f20" stroke-width="8.8" stroke-linejoin="round" stroke-linecap="round" />
<path d="M711,195 Q727,163 743,195" fill="#fff" stroke="#231f20" stroke-width="8.8" stroke-linejoin="round" stroke-linecap="round" />
<path d="M767,184 Q783,152 799,184" fill="#fff" stroke="#231f20" stroke-width="8.8" stroke-linejoin="round" stroke-linecap="round" />
<path d="M829,180 Q845,148 861,180" fill="#fff" stroke="#231f20" stroke-width="8.8" stroke-linejoin="round" stroke-linecap="round" />
<path d="M891,184 Q907,152 923,184" fill="#fff" stroke="#231f20" stroke-width="8.8" stroke-linejoin="round" stroke-linecap="round" />
<path d="M947,195 Q963,163 979,195" fill="#fff" stroke="#231f20" stroke-width="8.8" stroke-linejoin="round" stroke-linecap="round" />
<path d="M992,213 Q1008,181 1024,213" fill="#fff" stroke="#231f20" stroke-width="8.8" stroke-linejoin="round" stroke-linecap="round" />
<path d="M1022,236 Q1038,204 1054,236" fill="#fff" stroke="#231f20" stroke-width="8.8" stroke-linejoin="round" stroke-linecap="round" />
<ellipse cx="845" cy="215" rx="138" ry="62" fill="#fff" stroke="#231f20" stroke-width="10.0"/>
<ellipse cx="845" cy="215" rx="102" ry="44" fill="#231f20" stroke="#231f20" stroke-width="5.0"/>
<path d="M905,492 L910,482 L985,498 L985,515" fill="#fff" stroke="#231f20" stroke-width="8.8" stroke-linejoin="round" stroke-linecap="round" />
<path d="M790,655 L785,662 L705,648 L700,632" fill="#fff" stroke="#231f20" stroke-width="8.8" stroke-linejoin="round" stroke-linecap="round" />
<ellipse cx="845" cy="575" rx="186" ry="82" fill="#fff" stroke="#231f20" stroke-width="10.0"/>
<path d="M1028.2,599.2 A186,82 0 0 1 661.8,599.2" fill="none" stroke="#231f20" stroke-width="6.2" />
<ellipse cx="845" cy="572" rx="140" ry="56" fill="#fff" stroke="#231f20" stroke-width="8.8"/>
<path d="M719.1,562.2 A134,52 0 0 1 970.9,562.2" fill="none" stroke="#231f20" stroke-width="5.0" />
<line x1="1275" y1="180" x2="1104.3" y2="225.5" stroke="#ed1c24" stroke-width="8"/><polygon points="1050,240 1118.2,192.8 1104.3,225.5 1132.6,247.0" fill="#ed1c24"/>
<line x1="1265" y1="525" x2="1088.9" y2="576.3" stroke="#ed1c24" stroke-width="8"/><polygon points="1035,592 1102.1,543.3 1088.9,576.3 1117.7,597.1" fill="#ed1c24"/>
<polygon points="838,640 868,640 868,730 893,730 853,790 812,730 838,730" fill="#ed1c24"/>
</g>
</svg>
<div class="lb" style="left:1221px;top:683px">半轴齿轮</div>
<div class="lb" style="left:1221px;top:768.5px">半轴齿轮垫片</div>

<svg width="2913" height="2047" viewBox="0 0 2913 2047">
<g transform="translate(880 1230) scale(0.17857)">
<g transform="rotate(-2.2 1295 700)"><path d="M1080,1290 Q1090,1350 1180,1375 Q1295,1395 1410,1375 Q1500,1350 1510,1290" fill="#fff" stroke="#231f20" stroke-width="9" stroke-linejoin="round" stroke-linecap="round" />
<path d="M1120,1340 L1125,1365 M1170,1352 L1172,1378 M1220,1360 L1221,1385 M1270,1363 L1270,1388 M1320,1363 L1320,1388 M1370,1360 L1369,1385 M1420,1352 L1418,1376 M1465,1340 L1460,1362" fill="none" stroke="#231f20" stroke-width="6" stroke-linejoin="round" stroke-linecap="round" />
<path d="M900,1270 Q910,1310 960,1325 M1690,1270 Q1680,1305 1630,1322" fill="none" stroke="#231f20" stroke-width="7" stroke-linejoin="round" stroke-linecap="round" />
<path d="M395,745 C400,1020 800,1292 1295,1292 C1800,1292 2190,1010 2195,705" fill="#fff" stroke="#231f20" stroke-width="10" stroke-linejoin="round" stroke-linecap="round" />
<path d="M640,1120 Q950,1255 1295,1258 Q1650,1255 1960,1100" fill="none" stroke="#231f20" stroke-width="5" stroke-linejoin="round" stroke-linecap="round" />
<ellipse cx="1295" cy="735" rx="897" ry="462" fill="#fff" stroke="#231f20" stroke-width="6"/>
<g fill="#fff" stroke="#231f20" stroke-linejoin="round"><g stroke-width="27"><path id="c1" d="M1234,317 1269,297 1314,279 1369,262 1432,248 1488,297 1405,310 1334,326 1277,346 1236,367Z M1156,374 1168,322 1234,317 1236,367Z M1168,322 1196,300 1236,280 1285,260 1342,243 1432,248 1369,262 1314,279 1269,297 1234,317Z"/></g><use href="#c1" stroke-width="2"/>
<g stroke-width="27"><path id="c2" d="M1339,316 1382,300 1436,286 1498,274 1568,265 1627,320 1537,325 1457,335 1390,349 1339,366Z M1257,366 1272,315 1339,316 1339,366Z M1272,315 1310,297 1358,280 1416,265 1482,253 1568,265 1498,274 1436,286 1382,300 1339,316Z"/></g><use href="#c2" stroke-width="2"/>
<g stroke-width="27"><path id="c3" d="M1131,326 1156,304 1192,282 1237,261 1292,242 1343,287 1270,306 1210,328 1164,352 1136,376Z M1058,390 1068,337 1131,326 1136,376Z M1068,337 1086,314 1115,290 1154,267 1202,245 1292,242 1237,261 1192,282 1156,304 1131,326Z"/></g><use href="#c3" stroke-width="2"/>
<g stroke-width="27"><path id="c4" d="M1442,324 1493,312 1554,303 1622,297 1697,294 1758,354 1662,351 1576,354 1501,362 1440,374Z M1359,367 1376,318 1442,324 1440,374Z M1376,318 1423,303 1479,291 1544,281 1616,274 1697,294 1622,297 1554,303 1493,312 1442,324Z"/></g><use href="#c4" stroke-width="2"/>
<g stroke-width="27"><path id="c5" d="M1033,344 1047,321 1072,296 1107,272 1152,248 1197,289 1135,314 1088,341 1055,368 1039,394Z M967,414 973,360 1033,344 1039,394Z M973,360 981,336 999,310 1027,284 1064,259 1152,248 1107,272 1072,296 1047,321 1033,344Z"/></g><use href="#c5" stroke-width="2"/>
<g stroke-width="27"><path id="c6" d="M1542,341 1599,333 1665,330 1737,330 1815,334 1876,399 1778,388 1687,383 1606,384 1537,391Z M1460,377 1479,329 1542,341 1537,391Z M1479,329 1532,319 1595,311 1665,307 1741,307 1815,334 1737,330 1665,330 1599,333 1542,341Z"/></g><use href="#c6" stroke-width="2"/>
<g stroke-width="27"><path id="c7" d="M942,371 945,346 959,320 983,293 1016,266 1053,304 1005,334 972,364 953,393 950,420Z M885,446 888,392 942,371 950,420Z M888,392 884,367 891,340 907,312 933,284 1016,266 983,293 959,320 945,346 942,371Z"/></g><use href="#c7" stroke-width="2"/>
<g stroke-width="27"><path id="c8" d="M1634,366 1696,364 1766,366 1840,372 1919,383 1978,453 1880,433 1787,421 1702,415 1628,416Z M1556,395 1576,349 1634,366 1628,416Z M1576,349 1635,343 1702,342 1776,344 1854,350 1919,383 1840,372 1766,366 1696,364 1634,366Z"/></g><use href="#c8" stroke-width="2"/>
<g stroke-width="27"><path id="c9" d="M860,405 852,380 855,353 866,325 887,296 917,330 883,364 864,396 859,426 870,453Z M814,484 814,430 860,405 870,453Z M814,430 799,406 794,379 798,350 811,320 887,296 866,325 855,353 852,380 860,405Z"/></g><use href="#c9" stroke-width="2"/>
<g stroke-width="27"><path id="c10" d="M1718,399 1783,402 1854,410 1928,422 2005,440 2061,515 1966,487 1874,467 1788,453 1709,448Z M1645,421 1665,377 1718,399 1709,448Z M1665,377 1729,376 1799,381 1874,389 1952,402 2005,440 1928,422 1854,410 1783,402 1718,399Z"/></g><use href="#c10" stroke-width="2"/>
<g stroke-width="27"><path id="c11" d="M756,528 723,504 702,475 694,442 699,406 702,366 702,397 711,426 728,451 753,474Z M790,445 772,422 762,395 762,366 770,336 790,368 772,404 769,437 778,467 801,492Z M756,528 753,474 790,445 801,492Z M753,474 728,451 711,426 702,397 702,366 770,336 762,366 762,395 772,422 790,445Z"/></g><use href="#c11" stroke-width="2"/>
<g stroke-width="27"><path id="c12" d="M1789,438 1856,447 1926,461 1999,480 2073,504 2124,583 2034,548 1945,519 1859,499 1780,486Z M1724,455 1745,412 1789,438 1780,486Z M1745,412 1811,417 1882,427 1956,442 2032,462 2073,504 1999,480 1926,461 1856,447 1789,438Z"/></g><use href="#c12" stroke-width="2"/>
<g stroke-width="27"><path id="c13" d="M713,576 668,556 634,529 610,497 599,461 610,421 623,451 643,479 671,502 706,522Z M713,576 706,522 734,490 746,537Z M706,522 671,502 643,479 623,451 610,421 667,385 672,416 685,444 706,469 734,490Z"/></g><use href="#c13" stroke-width="2"/>
<g stroke-width="27"><path id="c14" d="M1848,483 1914,497 1982,517 2051,542 2119,572 2163,656 2082,613 1999,577 1916,550 1837,530Z M1792,495 1812,453 1848,483 1837,530Z M2133,597 2092,528 2119,572 2163,656Z M1812,453 1879,464 1948,480 2020,502 2092,528 2119,572 2051,542 1982,517 1914,497 1848,483Z"/></g><use href="#c14" stroke-width="2"/>
<g stroke-width="27"><path id="c15" d="M686,627 631,611 584,588 546,559 519,524 536,483 562,512 594,537 632,558 676,574Z M686,627 676,574 693,540 706,586Z M676,574 632,558 594,537 562,512 536,483 581,443 599,472 624,499 655,522 693,540Z"/></g><use href="#c15" stroke-width="2"/>
<g stroke-width="27"><path id="c16" d="M1891,532 1955,552 2019,578 2082,608 2142,644 2180,731 2108,681 2033,639 1956,604 1879,578Z M1846,539 1865,500 1891,532 1879,578Z M2169,671 2130,598 2142,644 2180,731Z M1865,500 1930,516 1997,539 2064,566 2130,598 2142,644 2082,608 2019,578 1955,552 1891,532Z"/></g><use href="#c16" stroke-width="2"/>
<g stroke-width="27"><path id="c17" d="M675,679 611,669 553,650 502,625 459,593 483,550 521,576 564,598 611,615 662,627Z M675,679 662,627 669,593 682,637Z M662,627 611,615 564,598 521,576 483,550 515,507 545,534 581,558 623,578 669,593Z"/></g><use href="#c17" stroke-width="2"/>
<g stroke-width="27"><path id="c18" d="M1918,584 1978,609 2036,640 2091,676 2143,716 2172,806 2113,751 2047,703 1977,662 1905,629Z M1886,588 1903,550 1918,584 1905,629Z M2180,746 2145,670 2143,716 2172,806Z M1903,550 1965,572 2027,600 2088,633 2145,670 2143,716 2091,676 2036,640 1978,609 1918,584Z"/></g><use href="#c18" stroke-width="2"/>
<g stroke-width="27"><path id="c19" d="M681,732 611,727 543,714 479,694 423,667 453,621 501,643 553,661 609,674 666,681Z M681,732 666,681 662,647 675,690Z M423,667 453,621 470,575 450,608Z M666,681 609,674 553,661 501,643 453,621 470,575 511,600 557,621 608,636 662,647Z"/></g><use href="#c19" stroke-width="2"/></g>
<ellipse cx="1295" cy="668" rx="615" ry="312" fill="#fff" stroke="#231f20" stroke-width="7"/>
<ellipse cx="1295" cy="680" rx="592" ry="292" fill="#fff" stroke="#231f20" stroke-width="10"/>
<ellipse cx="1295" cy="690" rx="565" ry="272" fill="none" stroke="#231f20" stroke-width="6" />
<path d="M1400,490 L1400,526 Q1425.0,551.2 1450,552.4 Q1475.0,551.2 1500,526 L1500,490 Z" fill="#fff" stroke="#231f20" stroke-width="8" stroke-linejoin="round" stroke-linecap="round" />
<ellipse cx="1450" cy="490" rx="50" ry="24" fill="#fff" stroke="#231f20" stroke-width="8"/>
<path d="M1427.5,511.6 L1427.5,548.8 M1472.5,511.6 L1472.5,548.8" fill="none" stroke="#231f20" stroke-width="5.6" stroke-linejoin="round" stroke-linecap="round" />
<ellipse cx="1295" cy="745" rx="470" ry="232" fill="#fff" stroke="#231f20" stroke-width="10"/>
<ellipse cx="1295" cy="752" rx="445" ry="216" fill="none" stroke="#231f20" stroke-width="5" />
<path d="M1640,735 L1760,735 M1635,760 L1750,762 M830,790 L940,790" fill="none" stroke="#231f20" stroke-width="8" stroke-linejoin="round" stroke-linecap="round" />
<path d="M1630,575 L1630,619 Q1657.5,646.3 1685,647.6 Q1712.5,646.3 1740,619 L1740,575 Z" fill="#fff" stroke="#231f20" stroke-width="8" stroke-linejoin="round" stroke-linecap="round" />
<ellipse cx="1685" cy="575" rx="55" ry="26" fill="#fff" stroke="#231f20" stroke-width="8"/>
<path d="M1660.25,598.4 L1660.25,643.7 M1709.75,598.4 L1709.75,643.7" fill="none" stroke="#231f20" stroke-width="5.6" stroke-linejoin="round" stroke-linecap="round" />
<path d="M1767,700 L1767,744 Q1794.5,771.3 1822,772.6 Q1849.5,771.3 1877,744 L1877,700 Z" fill="#fff" stroke="#231f20" stroke-width="8" stroke-linejoin="round" stroke-linecap="round" />
<ellipse cx="1822" cy="700" rx="55" ry="26" fill="#fff" stroke="#231f20" stroke-width="8"/>
<path d="M1797.25,723.4 L1797.25,768.7 M1846.75,723.4 L1846.75,768.7" fill="none" stroke="#231f20" stroke-width="5.6" stroke-linejoin="round" stroke-linecap="round" />
<path d="M697,722 L697,756 Q721.0,779.1 745,780.2 Q769.0,779.1 793,756 L793,722 Z" fill="#fff" stroke="#231f20" stroke-width="8" stroke-linejoin="round" stroke-linecap="round" />
<ellipse cx="745" cy="722" rx="48" ry="22" fill="#fff" stroke="#231f20" stroke-width="8"/>
<path d="M723.4,741.8 L723.4,776.9 M766.6,741.8 L766.6,776.9" fill="none" stroke="#231f20" stroke-width="5.6" stroke-linejoin="round" stroke-linecap="round" />
<ellipse cx="1510" cy="600" rx="25" ry="14" fill="#fff" stroke="#231f20" stroke-width="8"/>
<ellipse cx="1590" cy="640" rx="25" ry="14" fill="#fff" stroke="#231f20" stroke-width="8"/>
<ellipse cx="1650" cy="690" rx="25" ry="14" fill="#fff" stroke="#231f20" stroke-width="8"/>
<ellipse cx="1655" cy="810" rx="25" ry="14" fill="#fff" stroke="#231f20" stroke-width="8"/>
<ellipse cx="1600" cy="860" rx="25" ry="14" fill="#fff" stroke="#231f20" stroke-width="8"/>
<ellipse cx="1505" cy="905" rx="25" ry="14" fill="#fff" stroke="#231f20" stroke-width="8"/>
<ellipse cx="1395" cy="935" rx="25" ry="14" fill="#fff" stroke="#231f20" stroke-width="8"/>
<ellipse cx="1170" cy="935" rx="25" ry="14" fill="#fff" stroke="#231f20" stroke-width="8"/>
<ellipse cx="1060" cy="905" rx="25" ry="14" fill="#fff" stroke="#231f20" stroke-width="8"/>
<ellipse cx="965" cy="860" rx="25" ry="14" fill="#fff" stroke="#231f20" stroke-width="8"/>
<ellipse cx="905" cy="805" rx="25" ry="14" fill="#fff" stroke="#231f20" stroke-width="8"/>
<ellipse cx="1295" cy="800" rx="345" ry="168" fill="#fff" stroke="#231f20" stroke-width="10"/>
<path d="M970.0,835.0 A325,150 0 0 1 1620.0,835.0" fill="none" stroke="#231f20" stroke-width="7" />
<path d="M1593,863 L1539,886 L1550,917 L1479,927 L1457,958 L1382,954 L1331,977 L1268,959 L1198,971 L1159,944 L1084,941 L1078,909 L1013,893 L1039,863 L997,837 L1051,814 L1040,783 L1111,773 L1133,742 L1208,746 L1259,723 L1322,741 L1392,729 L1431,756 L1506,759 L1512,791 L1577,807 L1551,837Z" fill="#fff" stroke="#231f20" stroke-width="9" stroke-linejoin="round" stroke-linecap="round" />
<ellipse cx="1524" cy="872" rx="24" ry="13" fill="#fff" stroke="#231f20" stroke-width="7"/>
<ellipse cx="1480" cy="912" rx="24" ry="13" fill="#fff" stroke="#231f20" stroke-width="7"/>
<ellipse cx="1399" cy="940" rx="24" ry="13" fill="#fff" stroke="#231f20" stroke-width="7"/>
<ellipse cx="1297" cy="950" rx="24" ry="13" fill="#fff" stroke="#231f20" stroke-width="7"/>
<ellipse cx="1195" cy="940" rx="24" ry="13" fill="#fff" stroke="#231f20" stroke-width="7"/>
<ellipse cx="1112" cy="913" rx="24" ry="13" fill="#fff" stroke="#231f20" stroke-width="7"/>
<ellipse cx="1066" cy="873" rx="24" ry="13" fill="#fff" stroke="#231f20" stroke-width="7"/>
<ellipse cx="1066" cy="828" rx="24" ry="13" fill="#fff" stroke="#231f20" stroke-width="7"/>
<ellipse cx="1110" cy="788" rx="24" ry="13" fill="#fff" stroke="#231f20" stroke-width="7"/>
<ellipse cx="1191" cy="760" rx="24" ry="13" fill="#fff" stroke="#231f20" stroke-width="7"/>
<ellipse cx="1293" cy="750" rx="24" ry="13" fill="#fff" stroke="#231f20" stroke-width="7"/>
<ellipse cx="1395" cy="760" rx="24" ry="13" fill="#fff" stroke="#231f20" stroke-width="7"/>
<ellipse cx="1478" cy="787" rx="24" ry="13" fill="#fff" stroke="#231f20" stroke-width="7"/>
<ellipse cx="1524" cy="827" rx="24" ry="13" fill="#fff" stroke="#231f20" stroke-width="7"/>
<ellipse cx="1295" cy="850" rx="136" ry="70" fill="#231f20"/>
<g fill="#fff" stroke="#231f20" stroke-linejoin="round"><g stroke-width="27"><path id="c20" d="M1928,638 1982,668 2033,704 2079,744 2120,788 2140,858 2095,800 2041,748 1980,703 1915,666Z M1909,624 1924,603 1928,638 1915,666Z M2167,799 2137,742 2120,788 2140,858Z M1924,603 1981,631 2037,663 2089,701 2137,742 2120,788 2079,744 2033,704 1982,668 1928,638Z"/></g><use href="#c20" stroke-width="2"/>
<g stroke-width="27"><path id="c21" d="M704,768 629,768 552,759 479,743 410,720 445,694 502,711 563,724 625,732 687,734Z M704,768 687,734 672,701 685,727Z M410,720 445,694 447,647 418,660Z M687,734 625,732 563,724 502,711 445,694 447,647 499,668 554,684 612,695 672,701Z"/></g><use href="#c21" stroke-width="2"/>
<g stroke-width="27"><path id="c22" d="M1921,692 1967,726 2009,766 2045,809 2075,857 2085,928 2055,867 2014,811 1964,761 1908,719Z M1915,677 1928,657 1921,692 1908,719Z M2131,873 2107,813 2075,857 2085,928Z M1928,657 1979,689 2026,726 2069,768 2107,813 2075,857 2045,809 2009,766 1967,726 1921,692Z"/></g><use href="#c22" stroke-width="2"/>
<g stroke-width="27"><path id="c23" d="M744,817 665,823 583,821 501,812 421,795 460,766 526,778 593,786 660,788 725,785Z M421,795 460,766 448,720 410,735Z M725,785 660,788 593,786 526,778 460,766 448,720 508,736 571,747 635,753 699,753Z"/></g><use href="#c23" stroke-width="2"/>
<g stroke-width="27"><path id="c24" d="M1897,745 1935,783 1966,825 1991,871 2009,921 2009,993 1994,929 1967,871 1930,817 1884,770Z M1904,729 1914,711 1897,745 1884,770Z M2071,942 2054,881 2009,921 2009,993Z M1914,711 1958,747 1996,788 2028,832 2054,881 2009,921 1991,871 1966,825 1935,783 1897,745Z"/></g><use href="#c24" stroke-width="2"/>
<g stroke-width="27"><path id="c25" d="M798,861 718,875 632,880 545,878 457,869 498,836 570,842 642,844 711,840 778,831Z M457,869 498,836 471,791 427,810Z M778,831 711,840 642,844 570,842 498,836 471,791 539,802 608,807 676,807 742,802Z"/></g><use href="#c25" stroke-width="2"/>
<g stroke-width="27"><path id="c26" d="M1856,794 1884,835 1905,880 1918,928 1923,978 1913,1050 1914,986 1903,925 1879,869 1844,819Z M1991,1005 1980,942 1923,978 1913,1050Z M1884,763 1919,802 1947,846 1967,893 1980,942 1923,978 1918,928 1905,880 1884,835 1856,794Z"/></g><use href="#c26" stroke-width="2"/>
<g stroke-width="27"><path id="c27" d="M866,901 787,922 700,934 609,940 515,938 558,901 634,902 708,897 779,887 845,873Z M515,938 558,901 517,860 466,883Z M845,873 779,887 708,897 634,902 558,901 517,860 591,864 664,863 734,858 801,847Z"/></g><use href="#c27" stroke-width="2"/>
<g stroke-width="27"><path id="c28" d="M1800,840 1818,883 1828,929 1828,978 1820,1028 1800,1098 1818,1035 1821,974 1812,916 1789,864Z M1891,1060 1888,997 1820,1028 1800,1098Z M1837,811 1862,853 1879,898 1888,947 1888,997 1820,1028 1828,978 1828,929 1818,883 1800,840Z"/></g><use href="#c28" stroke-width="2"/>
<g stroke-width="27"><path id="c29" d="M945,935 870,961 784,982 691,995 594,1001 638,961 716,955 791,944 861,928 925,908Z M594,1001 638,961 585,924 529,951Z M925,908 861,928 791,944 716,955 638,961 585,924 662,921 736,914 807,903 872,886Z"/></g><use href="#c29" stroke-width="2"/>
<g stroke-width="27"><path id="c30" d="M1730,880 1738,924 1735,971 1724,1019 1703,1068 1673,1136 1707,1075 1726,1015 1731,957 1720,903Z M1776,1106 1779,1043 1703,1068 1673,1136Z M1776,855 1791,899 1796,945 1792,993 1779,1043 1703,1068 1724,1019 1735,971 1738,924 1730,880Z"/></g><use href="#c30" stroke-width="2"/>
<g stroke-width="27"><path id="c31" d="M1034,961 964,994 882,1021 791,1043 693,1057 736,1013 814,1000 888,983 955,961 1014,936Z M693,1057 736,1013 671,981 612,1013Z M1014,936 955,961 888,983 814,1000 736,1013 671,981 750,972 824,959 894,941 956,919Z"/></g><use href="#c31" stroke-width="2"/>
<g stroke-width="27"><path id="c32" d="M1705,910 1713,964 1705,1022 1683,1082 1647,1142 1657,1080 1683,1031 1699,984 1706,937 1702,893Z M1647,1142 1657,1080 1574,1097 1537,1162Z M1702,893 1706,937 1699,984 1683,1031 1657,1080 1574,1097 1607,1051 1631,1004 1645,958 1648,914Z"/></g><use href="#c32" stroke-width="2"/>
<g stroke-width="27"><path id="c33" d="M1130,979 1068,1018 991,1052 904,1081 808,1104 849,1056 925,1036 995,1013 1058,986 1111,956Z M808,1104 849,1056 775,1030 714,1067Z M1111,956 1058,986 995,1013 925,1036 849,1056 775,1030 853,1014 925,995 991,971 1048,944Z"/></g><use href="#c33" stroke-width="2"/>
<g stroke-width="27"><path id="c34" d="M1623,942 1617,996 1596,1053 1559,1110 1508,1166 1526,1105 1563,1059 1591,1014 1609,968 1617,924Z M1508,1166 1526,1105 1438,1115 1393,1177Z M1617,924 1609,968 1591,1014 1563,1059 1526,1105 1438,1115 1483,1072 1518,1028 1543,984 1557,940Z"/></g><use href="#c34" stroke-width="2"/>
<g stroke-width="27"><path id="c35" d="M1231,989 1177,1033 1109,1073 1028,1109 936,1140 974,1089 1046,1063 1111,1034 1167,1002 1214,967Z M936,1140 974,1089 893,1069 832,1112Z M1214,967 1167,1002 1111,1034 1046,1063 974,1089 893,1069 968,1047 1036,1022 1097,993 1148,961Z"/></g><use href="#c35" stroke-width="2"/>
<g stroke-width="27"><path id="c36" d="M1532,966 1513,1019 1478,1073 1428,1127 1364,1178 1388,1119 1436,1077 1475,1034 1504,991 1522,948Z M1364,1178 1388,1119 1298,1121 1247,1179Z M1522,948 1504,991 1475,1034 1436,1077 1388,1119 1298,1121 1353,1082 1398,1042 1434,1000 1459,959Z"/></g><use href="#c36" stroke-width="2"/>
<g stroke-width="27"><path id="c37" d="M1333,990 1290,1038 1231,1084 1159,1126 1074,1165 1108,1111 1174,1079 1232,1044 1280,1008 1318,970Z M1074,1165 1108,1111 1022,1098 963,1146Z M1318,970 1280,1008 1232,1044 1174,1079 1108,1111 1022,1098 1092,1070 1154,1039 1208,1005 1251,969Z"/></g><use href="#c37" stroke-width="2"/>
<g stroke-width="27"><path id="c38" d="M1434,982 1403,1033 1355,1084 1293,1132 1218,1178 1248,1121 1305,1084 1354,1044 1394,1004 1422,963Z M1218,1178 1248,1121 1158,1116 1102,1169Z M1422,963 1394,1004 1354,1044 1305,1084 1248,1121 1158,1116 1221,1082 1276,1046 1321,1007 1356,968Z"/></g><use href="#c38" stroke-width="2"/></g></g>
<path d="M1265,185 Q1255,150 1290,125 L1320,112 Q1370,120 1400,165 L1395,205 L1345,262 L1290,225 Z" fill="#fff" stroke="#231f20" stroke-width="8" stroke-linejoin="round" stroke-linecap="round" />
<path d="M1320,112 Q1345,150 1335,195 M1290,225 Q1320,200 1395,190" fill="none" stroke="#231f20" stroke-width="7" stroke-linejoin="round" stroke-linecap="round" />
<path d="M760,470 Q740,600 860,700 Q960,775 1100,760 Q1120,700 1090,640 L1000,560 L900,520 Z" fill="#fff" stroke="#231f20" stroke-width="10" stroke-linejoin="round" stroke-linecap="round" />
<path d="M918,710 L890,705 L864,787 L915,796 Z" fill="#fff" stroke="#231f20" stroke-width="9" stroke-linejoin="round" stroke-linecap="round" />
<path d="M881,702 L855,691 L809,763 L857,785 Z" fill="#fff" stroke="#231f20" stroke-width="9" stroke-linejoin="round" stroke-linecap="round" />
<path d="M847,686 L825,668 L763,727 L803,760 Z" fill="#fff" stroke="#231f20" stroke-width="9" stroke-linejoin="round" stroke-linecap="round" />
<path d="M818,661 L802,639 L726,680 L758,722 Z" fill="#fff" stroke="#231f20" stroke-width="9" stroke-linejoin="round" stroke-linecap="round" />
<path d="M797,630 L786,604 L703,626 L723,674 Z" fill="#fff" stroke="#231f20" stroke-width="9" stroke-linejoin="round" stroke-linecap="round" />
<path d="M783,595 L780,567 L694,567 L701,619 Z" fill="#fff" stroke="#231f20" stroke-width="9" stroke-linejoin="round" stroke-linecap="round" />
<path d="M779,558 L782,530 L699,509 L694,560 Z" fill="#fff" stroke="#231f20" stroke-width="9" stroke-linejoin="round" stroke-linecap="round" />
<path d="M785,520 L795,494 L719,453 L701,502 Z" fill="#fff" stroke="#231f20" stroke-width="9" stroke-linejoin="round" stroke-linecap="round" />
<path d="M799,485 L815,462 L752,404 L723,447 Z" fill="#fff" stroke="#231f20" stroke-width="9" stroke-linejoin="round" stroke-linecap="round" />
<path d="M770,520 Q790,640 900,715 Q990,765 1090,755" fill="none" stroke="#231f20" stroke-width="10" stroke-linejoin="round" stroke-linecap="round" />
<path d="M1130,240 Q1180,190 1250,215 Q1390,290 1420,400 Q1430,520 1390,600 Q1330,680 1270,690 Q1190,660 1160,620 L1260,520 L1230,380 Z" fill="#fff" stroke="#231f20" stroke-width="10" stroke-linejoin="round" stroke-linecap="round" />
<path d="M1235,307 L1260,321 L1303,238 L1257,212 Z" fill="#fff" stroke="#231f20" stroke-width="9" stroke-linejoin="round" stroke-linecap="round" />
<path d="M1259,320 L1280,344 L1344,276 L1304,233 Z" fill="#fff" stroke="#231f20" stroke-width="9" stroke-linejoin="round" stroke-linecap="round" />
<path d="M1279,343 L1296,374 L1376,327 L1345,268 Z" fill="#fff" stroke="#231f20" stroke-width="9" stroke-linejoin="round" stroke-linecap="round" />
<path d="M1296,373 L1307,410 L1397,386 L1377,317 Z" fill="#fff" stroke="#231f20" stroke-width="9" stroke-linejoin="round" stroke-linecap="round" />
<path d="M1306,409 L1311,449 L1406,450 L1398,375 Z" fill="#fff" stroke="#231f20" stroke-width="9" stroke-linejoin="round" stroke-linecap="round" />
<path d="M1311,448 L1309,489 L1402,514 L1406,439 Z" fill="#fff" stroke="#231f20" stroke-width="9" stroke-linejoin="round" stroke-linecap="round" />
<path d="M1309,487 L1300,526 L1385,574 L1402,503 Z" fill="#fff" stroke="#231f20" stroke-width="9" stroke-linejoin="round" stroke-linecap="round" />
<path d="M1300,524 L1285,558 L1357,627 L1384,564 Z" fill="#fff" stroke="#231f20" stroke-width="9" stroke-linejoin="round" stroke-linecap="round" />
<path d="M1286,557 L1266,583 L1319,667 L1356,618 Z" fill="#fff" stroke="#231f20" stroke-width="9" stroke-linejoin="round" stroke-linecap="round" />
<path d="M1267,582 L1243,600 L1274,693 L1317,661 Z" fill="#fff" stroke="#231f20" stroke-width="9" stroke-linejoin="round" stroke-linecap="round" />
<path d="M1244,599 L1219,606 L1224,703 L1272,690 Z" fill="#fff" stroke="#231f20" stroke-width="9" stroke-linejoin="round" stroke-linecap="round" />
<path d="M1160,215 Q1300,250 1385,330 Q1410,350 1400,310 Q1330,230 1250,200" fill="#fff" stroke="#231f20" stroke-width="9" stroke-linejoin="round" stroke-linecap="round" />
<path d="M1040,470 Q1060,410 1140,400 Q1230,400 1250,470 Q1260,560 1170,590 Q1080,610 1040,540 Z" fill="#fff" stroke="#231f20" stroke-width="10" stroke-linejoin="round" stroke-linecap="round" />
<ellipse cx="1140" cy="495" rx="75" ry="62" fill="#fff" stroke="#231f20" stroke-width="9" transform="rotate(-25 1140 495)"/>
<path d="M1085,500 Q1130,450 1190,455 M1090,530 Q1140,480 1200,485 M1110,555 Q1150,515 1200,515" fill="none" stroke="#231f20" stroke-width="7" stroke-linejoin="round" stroke-linecap="round" />
<path d="M1268,526 L1258,550 L1344,589 L1360,548 Z" fill="#fff" stroke="#231f20" stroke-width="9" stroke-linejoin="round" stroke-linecap="round" />
<path d="M1251,561 L1233,581 L1299,645 L1330,612 Z" fill="#fff" stroke="#231f20" stroke-width="9" stroke-linejoin="round" stroke-linecap="round" />
<path d="M1222,589 L1198,602 L1237,684 L1278,662 Z" fill="#fff" stroke="#231f20" stroke-width="9" stroke-linejoin="round" stroke-linecap="round" />
<path d="M1185,606 L1157,611 L1164,701 L1211,693 Z" fill="#fff" stroke="#231f20" stroke-width="9" stroke-linejoin="round" stroke-linecap="round" />
<path d="M1143,611 L1115,606 L1089,693 L1136,701 Z" fill="#fff" stroke="#231f20" stroke-width="9" stroke-linejoin="round" stroke-linecap="round" />
<path d="M1102,602 L1078,589 L1022,662 L1063,684 Z" fill="#fff" stroke="#231f20" stroke-width="9" stroke-linejoin="round" stroke-linecap="round" />
<path d="M775,330 Q800,240 900,215 Q985,260 1000,360 Q1010,470 930,520 Q840,540 790,470 Q760,400 775,330 Z" fill="#fff" stroke="#231f20" stroke-width="10" stroke-linejoin="round" stroke-linecap="round" />
<ellipse cx="880" cy="385" rx="112" ry="132" fill="#fff" stroke="#231f20" stroke-width="9" transform="rotate(-20 880 385)"/>
<path d="M830,250 Q850,205 905,215 Q950,235 945,285 Q925,320 880,310 Q835,300 830,250 Z" fill="#fff" stroke="#231f20" stroke-width="9" stroke-linejoin="round" stroke-linecap="round" />
<ellipse cx="838" cy="372" rx="55" ry="62" fill="#fff" stroke="#231f20" stroke-width="8" transform="rotate(-20 838 372)"/>
<ellipse cx="822" cy="370" rx="13" ry="15" fill="#fff" stroke="#231f20" stroke-width="7"/>
<path d="M880,330 Q930,340 935,395 Q930,440 890,450" fill="none" stroke="#231f20" stroke-width="8" stroke-linejoin="round" stroke-linecap="round" />
<path d="M996,270 L1010,297 L1064,264 L1041,220 Z" fill="#fff" stroke="#231f20" stroke-width="8" stroke-linejoin="round" stroke-linecap="round" />
<path d="M1014,307 L1022,339 L1085,324 L1071,271 Z" fill="#fff" stroke="#231f20" stroke-width="8" stroke-linejoin="round" stroke-linecap="round" />
<path d="M1024,350 L1026,384 L1091,390 L1088,333 Z" fill="#fff" stroke="#231f20" stroke-width="8" stroke-linejoin="round" stroke-linecap="round" />
<path d="M1025,396 L1020,429 L1082,454 L1090,399 Z" fill="#fff" stroke="#231f20" stroke-width="8" stroke-linejoin="round" stroke-linecap="round" />
<path d="M1018,440 L1007,470 L1060,512 L1078,463 Z" fill="#fff" stroke="#231f20" stroke-width="8" stroke-linejoin="round" stroke-linecap="round" />
<path d="M95,440 Q200,445 300,432 Q380,425 420,418 Q430,440 410,470 M440,400 Q520,330 600,275 Q720,190 850,130 Q950,90 1050,88 Q1150,82 1215,105 Q1262,125 1250,165 Q1200,195 1110,195 Q1090,230 1040,235 Q1000,215 975,180 M1040,235 Q1000,250 985,230" fill="none" stroke="#231f20" stroke-width="14" stroke-linejoin="round" stroke-linecap="round" />
<path d="M440,400 Q520,330 600,275 Q720,190 850,130 Q950,90 1050,88 Q1150,82 1215,105 Q1262,125 1250,165 Q1200,195 1110,195 Q1090,230 1040,235 Q1000,215 975,180 L900,215 Q800,240 775,330 Q760,400 790,470 L760,480 Q750,560 790,640 Q740,700 640,730 Q540,750 420,745 L135,792 L95,440 Z" fill="#fff" stroke="#231f20" stroke-width="0" stroke-linejoin="round" stroke-linecap="round" />
<path d="M95,440 Q200,445 300,432 Q380,425 420,418 Q430,440 410,470 M440,400 Q520,330 600,275 Q720,190 850,130 Q950,90 1050,88 Q1150,82 1215,105 Q1262,125 1250,165 Q1200,195 1110,195 Q1090,230 1040,235 Q1000,215 975,180" fill="none" stroke="#231f20" stroke-width="14" stroke-linejoin="round" stroke-linecap="round" />
<path d="M135,792 Q250,755 350,742 Q480,735 560,740 Q660,725 720,670 Q745,640 765,600" fill="none" stroke="#231f20" stroke-width="14" stroke-linejoin="round" stroke-linecap="round" />
<path d="M565,380 Q650,300 760,255 M600,660 Q680,640 720,590 M480,690 Q520,700 560,692" fill="none" stroke="#231f20" stroke-width="10" stroke-linejoin="round" stroke-linecap="round" />
<path d="M730,285 L745,310 M745,280 L760,304" fill="none" stroke="#231f20" stroke-width="6" stroke-linejoin="round" stroke-linecap="round" />
<path d="M830,250 Q850,205 905,215 Q950,235 945,285 Q925,320 880,310 Q835,300 830,250 Z" fill="#fff" stroke="#231f20" stroke-width="9" stroke-linejoin="round" stroke-linecap="round" />
<ellipse cx="838" cy="372" rx="55" ry="62" fill="#fff" stroke="#231f20" stroke-width="8" transform="rotate(-20 838 372)"/>
<ellipse cx="822" cy="370" rx="13" ry="15" fill="#fff" stroke="#231f20" stroke-width="7"/>
<line x1="1508" y1="12" x2="1350.4" y2="179.7" stroke="#ed1c24" stroke-width="10"/><polygon points="1305,228 1346.1,140.4 1350.4,179.7 1389.9,181.5" fill="#ed1c24"/>
</g>
</svg>
<div class="lb" style="left:1149px;top:1157px;line-height:26px">十字轴<br>行星齿轮<br>行星齿轮垫片</div>

<svg width="2913" height="2047" viewBox="0 0 2913 2047">
<g transform="translate(850 1560) scale(0.22321)">
<g transform="rotate(-2.5 1165 975)"><path d="M1000,1470 Q1010,1515 1080,1530 Q1165,1540 1250,1530 Q1320,1515 1330,1470" fill="#fff" stroke="#231f20" stroke-width="7" stroke-linejoin="round" stroke-linecap="round" />
<path d="M1040,1500 L1043,1522 M1085,1508 L1086,1530 M1130,1512 L1130,1534 M1175,1513 L1175,1535 M1220,1510 L1219,1532 M1265,1503 L1263,1524" fill="none" stroke="#231f20" stroke-width="5" stroke-linejoin="round" stroke-linecap="round" />
<path d="M870,1440 Q880,1470 920,1482 M1440,1440 Q1430,1468 1395,1480" fill="none" stroke="#231f20" stroke-width="6" stroke-linejoin="round" stroke-linecap="round" />
<path d="M462,995 C470,1230 800,1485 1165,1485 C1560,1485 1865,1230 1872,960" fill="#fff" stroke="#231f20" stroke-width="8" stroke-linejoin="round" stroke-linecap="round" />
<path d="M700,1340 Q930,1450 1165,1452 Q1440,1448 1690,1290" fill="none" stroke="#231f20" stroke-width="4" stroke-linejoin="round" stroke-linecap="round" />
<ellipse cx="1165" cy="1000" rx="702" ry="380" fill="#fff" stroke="#231f20" stroke-width="5"/>
<g fill="#fff" stroke="#231f20" stroke-linejoin="round"><g stroke-width="21"><path id="d39" d="M1092,662 1116,645 1150,629 1190,614 1238,600 1281,638 1218,650 1165,666 1123,683 1094,702Z M1031,709 1040,668 1092,662 1094,702Z M1040,668 1060,649 1088,631 1124,614 1167,598 1238,600 1190,614 1150,629 1116,645 1092,662Z"/></g><use href="#d39" stroke-width="1.7"/>
<g stroke-width="21"><path id="d40" d="M1173,659 1205,645 1246,632 1293,621 1346,612 1392,653 1322,660 1262,670 1212,683 1174,699Z M1110,700 1121,660 1173,659 1174,699Z M1121,660 1148,644 1184,629 1227,615 1277,603 1346,612 1293,621 1246,632 1205,645 1173,659Z"/></g><use href="#d40" stroke-width="1.7"/>
<g stroke-width="21"><path id="d41" d="M1012,672 1029,653 1054,634 1087,616 1128,599 1166,633 1111,650 1068,670 1035,691 1016,711Z M956,724 963,682 1012,672 1016,711Z M963,682 974,663 994,643 1022,622 1057,603 1128,599 1087,616 1054,634 1029,653 1012,672Z"/></g><use href="#d41" stroke-width="1.7"/>
<g stroke-width="21"><path id="d42" d="M1255,663 1293,652 1339,643 1392,637 1449,633 1497,679 1423,679 1357,683 1299,691 1254,703Z M1190,699 1203,660 1255,663 1254,703Z M1203,660 1237,646 1280,635 1329,625 1384,618 1449,633 1392,637 1339,643 1293,652 1255,663Z"/></g><use href="#d42" stroke-width="1.7"/>
<g stroke-width="21"><path id="d43" d="M936,689 945,669 961,649 986,628 1018,607 1052,638 1007,660 973,683 951,706 942,728Z M887,746 891,704 936,689 942,728Z M891,704 894,684 905,662 924,640 950,618 1018,607 986,628 961,649 945,669 936,689Z"/></g><use href="#d43" stroke-width="1.7"/>
<g stroke-width="21"><path id="d44" d="M1334,675 1378,668 1428,663 1484,661 1545,663 1593,713 1516,706 1446,704 1383,707 1331,715Z M1270,705 1284,667 1334,675 1331,715Z M1284,667 1324,657 1372,649 1426,645 1485,643 1545,663 1484,661 1428,663 1378,668 1334,675Z"/></g><use href="#d44" stroke-width="1.7"/>
<g stroke-width="21"><path id="d45" d="M867,713 867,693 874,671 890,648 913,625 941,653 906,679 884,705 872,729 874,752Z M825,774 826,732 867,713 874,752Z M826,732 821,712 823,689 832,666 849,642 913,625 890,648 874,671 867,693 867,713Z"/></g><use href="#d45" stroke-width="1.7"/>
<g stroke-width="21"><path id="d46" d="M1409,694 1457,690 1510,690 1568,694 1630,701 1677,756 1600,742 1527,733 1461,731 1404,733Z M1346,718 1362,681 1409,694 1404,733Z M1362,681 1407,675 1459,672 1516,672 1577,676 1630,701 1568,694 1510,690 1457,690 1409,694Z"/></g><use href="#d46" stroke-width="1.7"/>
<g stroke-width="21"><path id="d47" d="M772,808 753,787 744,762 745,734 758,705 757,674 750,700 750,724 757,746 771,765Z M805,743 797,723 795,701 801,677 815,652 835,678 813,706 802,734 802,759 814,781Z M772,808 771,765 805,743 814,781Z M771,765 757,746 750,724 750,700 757,674 815,652 801,677 795,701 797,723 805,743Z"/></g><use href="#d47" stroke-width="1.7"/>
<g stroke-width="21"><path id="d48" d="M1476,719 1527,720 1583,725 1642,734 1703,747 1748,805 1672,784 1599,770 1531,761 1471,758Z M1418,737 1434,702 1476,719 1471,758Z M1434,702 1483,700 1538,702 1596,708 1658,717 1703,747 1642,734 1583,725 1527,720 1476,719Z"/></g><use href="#d48" stroke-width="1.7"/>
<g stroke-width="21"><path id="d49" d="M731,845 701,827 681,803 671,776 670,745 675,715 678,740 688,764 705,785 727,803Z M731,845 727,803 754,778 763,815Z M727,803 705,785 688,764 678,740 675,715 726,688 723,714 726,737 737,759 754,778Z"/></g><use href="#d49" stroke-width="1.7"/>
<g stroke-width="21"><path id="d50" d="M1536,750 1588,756 1644,766 1702,780 1761,798 1802,860 1730,833 1659,812 1591,796 1529,788Z M1483,763 1499,729 1536,750 1529,788Z M1499,729 1550,732 1606,739 1665,750 1725,764 1761,798 1702,780 1644,766 1588,756 1536,750Z"/></g><use href="#d50" stroke-width="1.7"/>
<g stroke-width="21"><path id="d51" d="M701,886 663,870 632,849 610,823 597,793 607,762 621,787 640,809 665,828 694,844Z M701,886 694,844 714,817 724,853Z M694,844 665,828 640,809 621,787 607,762 649,731 656,757 669,780 689,800 714,817Z"/></g><use href="#d51" stroke-width="1.7"/>
<g stroke-width="21"><path id="d52" d="M1585,786 1637,796 1692,811 1747,830 1802,854 1839,920 1773,886 1706,858 1639,837 1577,823Z M1539,795 1555,762 1585,786 1577,823Z M1811,872 1778,818 1802,854 1839,920Z M1555,762 1607,770 1663,781 1720,797 1778,818 1802,854 1747,830 1692,811 1637,796 1585,786Z"/></g><use href="#d52" stroke-width="1.7"/>
<g stroke-width="21"><path id="d53" d="M683,929 638,917 598,899 564,875 539,848 554,815 577,838 606,858 638,875 675,887Z M683,929 675,887 686,859 696,894Z M675,887 638,875 606,858 577,838 554,815 586,781 603,805 626,826 654,845 686,859Z"/></g><use href="#d53" stroke-width="1.7"/>
<g stroke-width="21"><path id="d54" d="M1623,825 1674,840 1725,860 1777,884 1826,912 1858,981 1799,942 1737,909 1675,882 1614,862Z M1585,830 1600,799 1623,825 1614,862Z M1844,932 1813,875 1826,912 1858,981Z M1600,799 1652,812 1706,828 1760,849 1813,875 1826,912 1777,884 1725,860 1674,840 1623,825Z"/></g><use href="#d54" stroke-width="1.7"/>
<g stroke-width="21"><path id="d55" d="M679,972 627,965 578,951 535,931 498,906 518,872 550,893 587,910 626,923 669,932Z M679,972 669,932 671,903 681,937Z M669,932 626,923 587,910 550,893 518,872 539,835 566,858 597,877 632,892 671,903Z"/></g><use href="#d55" stroke-width="1.7"/>
<g stroke-width="21"><path id="d56" d="M1648,868 1696,888 1744,912 1789,940 1833,973 1858,1044 1808,1000 1753,961 1696,929 1638,904Z M1620,870 1634,840 1648,868 1638,904Z M1859,994 1831,934 1833,973 1858,1044Z M1634,840 1683,857 1734,879 1783,904 1831,934 1833,973 1789,940 1744,912 1696,888 1648,868Z"/></g><use href="#d56" stroke-width="1.7"/>
<g stroke-width="21"><path id="d57" d="M688,1016 631,1014 575,1004 523,989 475,967 500,931 540,949 584,962 629,972 676,976Z M688,1016 676,976 670,948 680,981Z M475,967 500,931 509,893 492,918Z M676,976 629,972 584,962 540,949 500,931 509,893 545,913 584,929 626,940 670,948Z"/></g><use href="#d57" stroke-width="1.7"/></g>
<ellipse cx="1165" cy="950" rx="482" ry="258" fill="#fff" stroke="#231f20" stroke-width="6"/>
<ellipse cx="1165" cy="960" rx="462" ry="240" fill="#fff" stroke="#231f20" stroke-width="8"/>
<ellipse cx="1165" cy="968" rx="440" ry="224" fill="none" stroke="#231f20" stroke-width="5" />
<ellipse cx="1165" cy="1010" rx="368" ry="190" fill="#fff" stroke="#231f20" stroke-width="8"/>
<path d="M1421,893 L1421,935 Q1443.0,956.0 1465,957.0 Q1487.0,956.0 1509,935 L1509,893 Z" fill="#fff" stroke="#231f20" stroke-width="7" stroke-linejoin="round" stroke-linecap="round" />
<ellipse cx="1465" cy="893" rx="44" ry="20" fill="#fff" stroke="#231f20" stroke-width="7"/>
<path d="M1445.2,911.0 L1445.2,954.0 M1484.8,911.0 L1484.8,954.0" fill="none" stroke="#231f20" stroke-width="4.8999999999999995" stroke-linejoin="round" stroke-linecap="round" />
<path d="M1538,990 L1538,1032 Q1560.0,1053.0 1582,1054.0 Q1604.0,1053.0 1626,1032 L1626,990 Z" fill="#fff" stroke="#231f20" stroke-width="7" stroke-linejoin="round" stroke-linecap="round" />
<ellipse cx="1582" cy="990" rx="44" ry="20" fill="#fff" stroke="#231f20" stroke-width="7"/>
<path d="M1562.2,1008.0 L1562.2,1051.0 M1601.8,1008.0 L1601.8,1051.0" fill="none" stroke="#231f20" stroke-width="4.8999999999999995" stroke-linejoin="round" stroke-linecap="round" />
<ellipse cx="1455" cy="1075" rx="20" ry="11" fill="#fff" stroke="#231f20" stroke-width="6"/>
<ellipse cx="1405" cy="1112" rx="20" ry="11" fill="#fff" stroke="#231f20" stroke-width="6"/>
<ellipse cx="1340" cy="1140" rx="20" ry="11" fill="#fff" stroke="#231f20" stroke-width="6"/>
<ellipse cx="1250" cy="1165" rx="20" ry="11" fill="#fff" stroke="#231f20" stroke-width="6"/>
<ellipse cx="1075" cy="1165" rx="20" ry="11" fill="#fff" stroke="#231f20" stroke-width="6"/>
<path d="M1180,960 L1330,940 L1420,900 L1470,1000 L1440,1080 L1300,1100 L1200,1060 Z" fill="#fff" stroke="#231f20" stroke-width="7" stroke-linejoin="round" stroke-linecap="round" />
<path d="M1230,980 L1240,1060 M1290,960 L1300,1090 M1350,940 L1370,1085 M1400,930 L1420,1070 M1200,1010 L1460,990 M1210,1040 L1450,1040 M1300,1000 L1380,1070 M1380,1000 L1300,1070" fill="none" stroke="#231f20" stroke-width="6" stroke-linejoin="round" stroke-linecap="round" />
<path d="M1130,1150 Q1140,1110 1180,1108 Q1215,1112 1222,1150 M1150,1165 Q1180,1140 1205,1165" fill="none" stroke="#231f20" stroke-width="7" stroke-linejoin="round" stroke-linecap="round" />
<g fill="#fff" stroke="#231f20" stroke-linejoin="round"><g stroke-width="21"><path id="d58" d="M1660,912 1704,936 1746,964 1785,996 1821,1032 1838,1090 1799,1043 1754,1000 1703,964 1650,935Z M1642,900 1654,884 1660,912 1650,935Z M1855,1041 1830,994 1821,1032 1838,1090Z M1654,884 1701,905 1746,931 1790,960 1830,994 1821,1032 1785,996 1746,964 1704,936 1660,912Z"/></g><use href="#d58" stroke-width="1.7"/>
<g stroke-width="21"><path id="d59" d="M710,1046 650,1048 588,1043 528,1032 471,1014 499,992 547,1005 596,1014 647,1019 696,1020Z M471,1014 499,992 497,953 472,964Z M696,1020 647,1019 596,1014 547,1005 499,992 497,953 541,969 586,981 634,989 682,992Z"/></g><use href="#d59" stroke-width="1.7"/>
<g stroke-width="21"><path id="d60" d="M1659,957 1698,984 1733,1016 1764,1052 1791,1090 1801,1149 1773,1099 1737,1053 1696,1013 1649,979Z M1651,944 1661,928 1659,957 1649,979Z M1832,1102 1812,1054 1791,1090 1801,1149Z M1661,928 1704,953 1743,983 1780,1017 1812,1054 1791,1090 1764,1052 1733,1016 1698,984 1659,957Z"/></g><use href="#d60" stroke-width="1.7"/>
<g stroke-width="21"><path id="d61" d="M745,1086 682,1093 617,1094 551,1088 486,1076 517,1051 570,1060 624,1064 678,1065 730,1061Z M486,1076 517,1051 504,1013 472,1027Z M730,1061 678,1065 624,1064 570,1060 517,1051 504,1013 553,1025 605,1033 656,1036 707,1035Z"/></g><use href="#d61" stroke-width="1.7"/>
<g stroke-width="21"><path id="d62" d="M1644,1001 1676,1032 1704,1066 1727,1104 1744,1145 1746,1204 1730,1152 1706,1103 1673,1060 1634,1022Z M1647,987 1655,973 1644,1001 1634,1022Z M1791,1160 1776,1110 1744,1145 1746,1204Z M1655,973 1692,1002 1724,1035 1753,1071 1776,1110 1744,1145 1727,1104 1704,1066 1676,1032 1644,1001Z"/></g><use href="#d62" stroke-width="1.7"/>
<g stroke-width="21"><path id="d63" d="M791,1121 728,1135 660,1141 590,1142 519,1136 552,1108 610,1112 667,1111 723,1107 775,1098Z M519,1136 552,1108 528,1072 491,1088Z M775,1098 723,1107 667,1111 610,1112 552,1108 528,1072 583,1079 638,1082 693,1080 745,1074Z"/></g><use href="#d63" stroke-width="1.7"/>
<g stroke-width="21"><path id="d64" d="M1616,1043 1641,1076 1661,1113 1674,1153 1681,1194 1675,1254 1673,1200 1659,1150 1637,1104 1606,1063Z M1733,1215 1723,1163 1681,1194 1675,1254Z M1636,1016 1665,1048 1690,1084 1709,1122 1723,1163 1681,1194 1674,1153 1661,1113 1641,1076 1616,1043Z"/></g><use href="#d64" stroke-width="1.7"/>
<g stroke-width="21"><path id="d65" d="M847,1153 786,1172 718,1185 645,1191 570,1192 605,1161 665,1160 724,1154 780,1144 831,1131Z M570,1192 605,1161 569,1128 528,1148Z M831,1131 780,1144 724,1154 665,1160 605,1161 569,1128 628,1130 686,1127 742,1121 794,1110Z"/></g><use href="#d65" stroke-width="1.7"/>
<g stroke-width="21"><path id="d66" d="M1576,1082 1593,1117 1604,1155 1607,1196 1604,1238 1591,1296 1601,1243 1600,1192 1588,1144 1567,1101Z M1660,1263 1655,1211 1604,1238 1591,1296Z M1603,1057 1625,1092 1642,1129 1652,1169 1655,1211 1604,1238 1607,1196 1604,1155 1593,1117 1576,1082Z"/></g><use href="#d66" stroke-width="1.7"/>
<g stroke-width="21"><path id="d67" d="M912,1179 854,1203 787,1222 715,1235 638,1243 672,1209 734,1202 792,1191 847,1176 896,1158Z M638,1243 672,1209 627,1179 582,1203Z M896,1158 847,1176 792,1191 734,1202 672,1209 627,1179 688,1175 747,1168 803,1156 854,1141Z"/></g><use href="#d67" stroke-width="1.7"/>
<g stroke-width="21"><path id="d68" d="M1525,1117 1533,1153 1535,1192 1529,1232 1515,1273 1495,1330 1517,1279 1528,1228 1528,1180 1516,1135Z M1572,1303 1573,1251 1515,1273 1495,1330Z M1559,1095 1573,1131 1580,1169 1580,1210 1573,1251 1515,1273 1529,1232 1535,1192 1533,1153 1525,1117Z"/></g><use href="#d68" stroke-width="1.7"/>
<g stroke-width="21"><path id="d69" d="M984,1198 931,1228 867,1252 796,1272 719,1287 753,1250 814,1237 871,1221 923,1201 968,1179Z M719,1287 753,1250 700,1224 653,1252Z M968,1179 923,1201 871,1221 814,1237 753,1250 700,1224 762,1215 820,1202 873,1186 921,1166Z"/></g><use href="#d69" stroke-width="1.7"/>
<g stroke-width="21"><path id="d70" d="M1505,1142 1515,1186 1512,1235 1499,1285 1474,1336 1481,1284 1498,1243 1507,1204 1509,1165 1504,1128Z M1463,1147 1463,1183 1456,1222 1440,1261 1417,1301 1389,1355 1424,1306 1446,1257 1458,1210 1456,1164Z M1474,1336 1481,1284 1417,1301 1389,1355Z M1504,1128 1509,1165 1507,1204 1498,1243 1481,1284 1417,1301 1440,1261 1456,1222 1463,1183 1463,1147Z"/></g><use href="#d70" stroke-width="1.7"/>
<g stroke-width="21"><path id="d71" d="M1060,1211 1014,1245 955,1275 888,1302 813,1323 845,1283 904,1265 958,1243 1006,1220 1046,1193Z M813,1323 845,1283 785,1263 737,1295Z M1046,1193 1006,1220 958,1243 904,1265 845,1283 785,1263 846,1248 902,1230 952,1209 996,1185Z"/></g><use href="#d71" stroke-width="1.7"/>
<g stroke-width="21"><path id="d72" d="M1443,1170 1442,1215 1429,1262 1404,1311 1368,1359 1380,1308 1406,1269 1425,1231 1436,1193 1439,1156Z M1368,1359 1380,1308 1312,1319 1278,1370Z M1439,1156 1436,1193 1425,1231 1406,1269 1380,1308 1312,1319 1344,1282 1369,1244 1385,1207 1394,1171Z"/></g><use href="#d72" stroke-width="1.7"/>
<g stroke-width="21"><path id="d73" d="M1140,1217 1101,1255 1049,1290 987,1322 917,1350 946,1307 1001,1284 1050,1258 1093,1230 1127,1200Z M917,1350 946,1307 881,1293 833,1329Z M1127,1200 1093,1230 1050,1258 1001,1284 946,1307 881,1293 938,1273 991,1250 1037,1224 1075,1197Z"/></g><use href="#d73" stroke-width="1.7"/>
<g stroke-width="21"><path id="d74" d="M1374,1192 1363,1236 1338,1282 1303,1328 1255,1372 1273,1323 1308,1287 1336,1250 1356,1214 1367,1178Z M1255,1372 1273,1323 1202,1327 1164,1375Z M1367,1178 1356,1214 1336,1250 1308,1287 1273,1323 1202,1327 1243,1293 1276,1258 1301,1223 1318,1188Z"/></g><use href="#d74" stroke-width="1.7"/>
<g stroke-width="21"><path id="d75" d="M1220,1216 1189,1257 1146,1296 1091,1334 1027,1368 1053,1322 1103,1294 1146,1264 1182,1233 1209,1200Z M1027,1368 1053,1322 984,1314 938,1355Z M1209,1200 1182,1233 1146,1264 1103,1294 1053,1322 984,1314 1037,1289 1084,1261 1125,1232 1157,1201Z"/></g><use href="#d75" stroke-width="1.7"/>
<g stroke-width="21"><path id="d76" d="M1299,1207 1278,1250 1243,1294 1197,1335 1141,1375 1163,1327 1206,1295 1242,1261 1270,1227 1290,1192Z M1141,1375 1163,1327 1092,1325 1049,1370Z M1290,1192 1270,1227 1242,1261 1206,1295 1163,1327 1092,1325 1140,1296 1180,1264 1214,1231 1238,1198Z"/></g><use href="#d76" stroke-width="1.7"/></g></g>
<path d="M650,330 Q575,430 560,560 Q550,660 600,730 Q650,800 720,860 L900,700 L800,400 Z" fill="#fff" stroke="#231f20" stroke-width="7" stroke-linejoin="round" stroke-linecap="round" />
<path d="M498,414 Q510,330 600,262 L648,318 Q590,380 575,470 Q560,520 570,575 L548,570 Q505,500 498,414 Z" fill="#fff" stroke="#231f20" stroke-width="8" stroke-linejoin="round" stroke-linecap="round" />
<path d="M505,400 L535,412 M508,435 L540,445 M515,470 L545,478 M524,505 L552,510 M535,540 L560,543 M515,365 L545,382 M530,335 L560,355 M552,305 L580,330 M578,282 L602,308" fill="none" stroke="#231f20" stroke-width="9" stroke-linejoin="round" stroke-linecap="round" />
<path d="M545,382 Q580,320 632,300 M560,395 Q590,340 640,312 M575,410 Q600,365 648,330" fill="none" stroke="#231f20" stroke-width="6" stroke-linejoin="round" stroke-linecap="round" />
<ellipse cx="948" cy="560" rx="305" ry="182" fill="#fff" stroke="#231f20" stroke-width="8" transform="rotate(-55 948 560)"/>
<ellipse cx="946" cy="558" rx="268" ry="148" fill="#fff" stroke="#231f20" stroke-width="7" transform="rotate(-55 946 558)"/>
<ellipse cx="849" cy="418" rx="12" ry="16" fill="#fff" stroke="#231f20" stroke-width="6" transform="rotate(-30 849 418)"/>
<ellipse cx="905" cy="365" rx="12" ry="16" fill="#fff" stroke="#231f20" stroke-width="6" transform="rotate(-30 905 365)"/>
<ellipse cx="964" cy="328" rx="12" ry="16" fill="#fff" stroke="#231f20" stroke-width="6" transform="rotate(-30 964 328)"/>
<ellipse cx="1022" cy="308" rx="12" ry="16" fill="#fff" stroke="#231f20" stroke-width="6" transform="rotate(-30 1022 308)"/>
<ellipse cx="1074" cy="308" rx="12" ry="16" fill="#fff" stroke="#231f20" stroke-width="6" transform="rotate(-30 1074 308)"/>
<ellipse cx="1116" cy="327" rx="12" ry="16" fill="#fff" stroke="#231f20" stroke-width="6" transform="rotate(-30 1116 327)"/>
<ellipse cx="1052" cy="693" rx="12" ry="16" fill="#fff" stroke="#231f20" stroke-width="6" transform="rotate(-30 1052 693)"/>
<ellipse cx="996" cy="747" rx="12" ry="16" fill="#fff" stroke="#231f20" stroke-width="6" transform="rotate(-30 996 747)"/>
<ellipse cx="937" cy="787" rx="12" ry="16" fill="#fff" stroke="#231f20" stroke-width="6" transform="rotate(-30 937 787)"/>
<ellipse cx="879" cy="809" rx="12" ry="16" fill="#fff" stroke="#231f20" stroke-width="6" transform="rotate(-30 879 809)"/>
<ellipse cx="826" cy="811" rx="12" ry="16" fill="#fff" stroke="#231f20" stroke-width="6" transform="rotate(-30 826 811)"/>
<ellipse cx="782" cy="794" rx="12" ry="16" fill="#fff" stroke="#231f20" stroke-width="6" transform="rotate(-30 782 794)"/>
<path d="M722,560 Q712,530 745,525 Q775,535 768,575 Z" fill="#fff" stroke="#231f20" stroke-width="7" stroke-linejoin="round" stroke-linecap="round" />
<path d="M1078,600 Q1070,570 1100,565 Q1130,572 1125,605 Z" fill="#fff" stroke="#231f20" stroke-width="7" stroke-linejoin="round" stroke-linecap="round" />
<ellipse cx="915" cy="519" rx="263" ry="80" fill="#fff" stroke="#231f20" stroke-width="9" transform="rotate(-54.6 915 519)"/>
<ellipse cx="920" cy="523" rx="246" ry="64" fill="#fff" stroke="#231f20" stroke-width="6" transform="rotate(-54.6 920 523)"/>
<path d="M1020,474 L1005,502 L987,531 L967,560 L947,588 L925,614 L903,638 L883,658 L863,675 L845,687 L830,694 L818,697 L809,694 L803,686 L801,674 L803,657 L809,636 L818,612 L830,586 L845,558" fill="none" stroke="#231f20" stroke-width="8" stroke-linejoin="round" stroke-linecap="round" />
<path d="M1018,494 L1001,523 L982,552 L962,580 L941,608 L919,633 L898,655 L878,673 L859,687 L842,697 L829,702 L818,702 L810,697 L807,686 L807,672 L810,653 L818,631 L828,605 L842,578" fill="none" stroke="#231f20" stroke-width="4" stroke-linejoin="round" stroke-linecap="round" />
<path d="M991,498 L978,520 L964,542 L949,563 L933,584 L917,603 L901,620 L885,634 L871,644 L859,652 L848,656 L840,655 L835,651 L832,644 L832,633 L835,619 L840,602 L848,583 L859,562" fill="none" stroke="#231f20" stroke-width="8" stroke-linejoin="round" stroke-linecap="round" />
<path d="M990,515 L977,537 L962,559 L946,580 L930,600 L914,618 L898,633 L883,645 L870,655 L858,660 L849,662 L842,660 L838,654 L836,645 L838,632 L842,616 L849,598 L858,578" fill="none" stroke="#231f20" stroke-width="4" stroke-linejoin="round" stroke-linecap="round" />
<path d="M965,515 L956,530 L946,545 L936,559 L925,573 L914,585 L903,596 L893,604 L884,610 L876,614 L870,615 L865,614 L863,610 L862,604 L863,595 L866,585 L870,572 L877,559" fill="none" stroke="#231f20" stroke-width="8" stroke-linejoin="round" stroke-linecap="round" />
<path d="M966,529 L956,544 L946,558 L935,572 L924,585 L913,596 L903,606 L893,613 L885,618 L878,621 L872,621 L869,618 L867,613 L867,606 L869,596 L873,585 L878,572" fill="none" stroke="#231f20" stroke-width="4" stroke-linejoin="round" stroke-linecap="round" />
<path d="M905,545 L1000,470 M925,560 L1020,488 M955,455 L1035,500 M975,435 L1045,478" fill="none" stroke="#231f20" stroke-width="7" stroke-linejoin="round" stroke-linecap="round" />
<ellipse cx="818" cy="716" rx="14" ry="9" fill="#fff" stroke="#231f20" stroke-width="6" transform="rotate(-50 818 716)"/>
<ellipse cx="776" cy="726" rx="14" ry="9" fill="#fff" stroke="#231f20" stroke-width="6" transform="rotate(-50 776 726)"/>
<ellipse cx="759" cy="697" rx="14" ry="9" fill="#fff" stroke="#231f20" stroke-width="6" transform="rotate(-50 759 697)"/>
<ellipse cx="772" cy="634" rx="14" ry="9" fill="#fff" stroke="#231f20" stroke-width="6" transform="rotate(-50 772 634)"/>
<ellipse cx="812" cy="551" rx="14" ry="9" fill="#fff" stroke="#231f20" stroke-width="6" transform="rotate(-50 812 551)"/>
<path d="M1135,900 Q1180,935 1260,905 Q1340,870 1350,810 L1300,760 L1150,840 Z" fill="#fff" stroke="#231f20" stroke-width="8" stroke-linejoin="round" stroke-linecap="round" />
<path d="M1234,841 L1239,851 L1350,839 L1339,819 Z" fill="#fff" stroke="#231f20" stroke-width="7" stroke-linejoin="round" stroke-linecap="round" />
<path d="M1240,855 L1240,865 L1355,871 L1355,849 Z" fill="#fff" stroke="#231f20" stroke-width="7" stroke-linejoin="round" stroke-linecap="round" />
<path d="M1239,869 L1234,879 L1339,901 L1350,881 Z" fill="#fff" stroke="#231f20" stroke-width="7" stroke-linejoin="round" stroke-linecap="round" />
<path d="M1231,882 L1221,890 L1304,926 L1324,910 Z" fill="#fff" stroke="#231f20" stroke-width="7" stroke-linejoin="round" stroke-linecap="round" />
<path d="M1217,892 L1203,897 L1254,943 L1281,933 Z" fill="#fff" stroke="#231f20" stroke-width="7" stroke-linejoin="round" stroke-linecap="round" />
<path d="M1198,898 L1183,900 L1195,950 L1226,947 Z" fill="#fff" stroke="#231f20" stroke-width="7" stroke-linejoin="round" stroke-linecap="round" />
<ellipse cx="1110" cy="770" rx="250" ry="125" fill="#fff" stroke="#231f20" stroke-width="8" transform="rotate(-14 1110 770)"/>
<path d="M880,715 L858,730 L862,790 L905,800 M1245,700 L1262,735 L1250,790 L1215,800" fill="none" stroke="#231f20" stroke-width="8" stroke-linejoin="round" stroke-linecap="round" />
<ellipse cx="1085" cy="745" rx="192" ry="100" fill="#fff" stroke="#231f20" stroke-width="8" transform="rotate(-14 1085 745)"/>
<ellipse cx="1090" cy="752" rx="160" ry="78" fill="#fff" stroke="#231f20" stroke-width="7" transform="rotate(-14 1090 752)"/>
<ellipse cx="1115" cy="765" rx="105" ry="60" fill="#fff" stroke="#231f20" stroke-width="8" transform="rotate(-20 1115 765)"/>
<path d="M1030,790 Q1030,840 1090,845 Q1160,830 1200,790" fill="none" stroke="#231f20" stroke-width="7" stroke-linejoin="round" stroke-linecap="round" />
<ellipse cx="1130" cy="758" rx="70" ry="42" fill="#231f20" transform="rotate(-20 1130 758)"/>
<path d="M170,185 Q320,175 460,158 Q500,190 540,225 Q600,260 660,330 Q690,420 740,440 Q790,430 795,360 Q780,280 740,215 Q820,200 890,195 Q1000,190 1040,245 L1105,320 Q1150,350 1195,335 Q1180,240 1120,170 Q1030,100 860,55 L170,185 Z" fill="#fff" stroke="#231f20" stroke-width="0" stroke-linejoin="round" stroke-linecap="round" />
<path d="M170,185 Q320,175 460,158 Q500,190 540,225 Q600,260 660,330 Q690,420 740,440 Q790,430 795,360 Q780,280 740,215" fill="none" stroke="#231f20" stroke-width="12.5" stroke-linejoin="round" stroke-linecap="round" />
<path d="M860,55 Q1030,100 1120,170 Q1180,240 1195,335 Q1165,350 1140,335 Q1120,300 1060,250 Q1000,195 900,195 Q830,198 770,225" fill="none" stroke="#231f20" stroke-width="12.5" stroke-linejoin="round" stroke-linecap="round" />
<path d="M740,215 Q770,240 830,200 M745,235 Q790,245 845,180" fill="none" stroke="#231f20" stroke-width="12.5" stroke-linejoin="round" stroke-linecap="round" />
<ellipse cx="728" cy="385" rx="22" ry="30" fill="none" stroke="#231f20" stroke-width="4" transform="rotate(-25 728 385)"/>
<path d="M660,290 L680,275 M668,300 L690,284" fill="none" stroke="#231f20" stroke-width="4" stroke-linejoin="round" stroke-linecap="round" />
<path d="M110,990 Q300,1030 450,1025 Q560,1000 700,905 Q830,850 950,825 Q1000,815 1005,850 Q1000,870 965,870 Q1060,890 1110,950 Q1160,1030 1140,1100 Q1100,1170 1020,1200 Q940,1260 820,1290 Q650,1310 500,1300 Q300,1280 50,1292 Z" fill="#fff" stroke="#231f20" stroke-width="0" stroke-linejoin="round" stroke-linecap="round" />
<path d="M110,990 Q300,1030 450,1025 Q560,1000 700,905 Q830,850 950,825 Q1000,815 1005,850 Q1000,870 965,870" fill="none" stroke="#231f20" stroke-width="12.5" stroke-linejoin="round" stroke-linecap="round" />
<path d="M965,870 Q1060,890 1110,950 Q1160,1030 1140,1100 Q1100,1170 1020,1200 Q940,1260 820,1290 Q650,1310 500,1300 Q300,1280 50,1292" fill="none" stroke="#231f20" stroke-width="12.5" stroke-linejoin="round" stroke-linecap="round" />
<path d="M915,970 Q945,960 975,935 L1000,955 Q985,990 960,1005 Q940,990 915,970 Z M1000,955 Q1040,960 1060,985 M960,1005 Q1000,1020 1060,1010" fill="none" stroke="#231f20" stroke-width="10" stroke-linejoin="round" stroke-linecap="round" />
<path d="M945,835 Q960,860 1000,858" fill="none" stroke="#231f20" stroke-width="9" stroke-linejoin="round" stroke-linecap="round" />
<line x1="1200" y1="128" x2="1079.1" y2="252.5" stroke="#ed1c24" stroke-width="8.5"/><polygon points="1035,298 1076.9,216.0 1079.1,252.5 1115.7,253.7" fill="#ed1c24"/>
<line x1="1430" y1="348" x2="1191.9" y2="596.3" stroke="#ed1c24" stroke-width="8.5"/><polygon points="1148,642 1189.4,559.8 1191.9,596.3 1228.4,597.2" fill="#ed1c24"/>
<line x1="1625" y1="555" x2="1383.1" y2="815.6" stroke="#ed1c24" stroke-width="8.5"/><polygon points="1340,862 1380.1,779.1 1383.1,815.6 1419.7,815.9" fill="#ed1c24"/>
</g>
</svg>
<div class="lb" style="left:1119.5px;top:1564px">小差壳</div>
<div class="lb" style="left:1170px;top:1613.5px">半轴齿轮垫片</div>
<div class="lb" style="left:1214px;top:1659px">半轴齿轮</div>

<svg width="2913" height="2047" viewBox="0 0 2913 2047">
<g transform="translate(2370 340) scale(0.22321)">
<path d="M640,1400 Q650,1470 740,1495 Q882,1515 1025,1495 Q1110,1470 1122,1400" fill="#fff" stroke="#231f20" stroke-width="5.5" stroke-linejoin="round" stroke-linecap="round" />
<path d="M845,1435 L850,1458 L912,1458 L917,1435 M540,1395 Q545,1415 585,1425 M1225,1395 Q1218,1415 1180,1425" fill="none" stroke="#231f20" stroke-width="5" stroke-linejoin="round" stroke-linecap="round" />
<path d="M70,945 C80,1190 470,1405 882,1405 C1300,1405 1685,1190 1695,945" fill="#fff" stroke="#231f20" stroke-width="6.5" stroke-linejoin="round" stroke-linecap="round" />
<path d="M330,1270 Q600,1375 882,1378 Q1170,1375 1440,1270" fill="none" stroke="#231f20" stroke-width="4" stroke-linejoin="round" stroke-linecap="round" />
<ellipse cx="882" cy="950" rx="808" ry="372" fill="#fff" stroke="#231f20" stroke-width="5"/>
<g fill="#fff" stroke="#231f20" stroke-linejoin="round"><g stroke-width="13"><path id="e1" d="M817,616 848,602 888,588 936,576 993,566 1043,614 968,622 905,633 855,646 819,661Z M747,667 757,621 817,616 819,661Z M757,621 782,605 817,590 860,575 912,563 993,566 936,576 888,588 848,602 817,616Z"/></g><use href="#e1" stroke-width="2.5"/>
<g stroke-width="13"><path id="e2" d="M912,615 950,603 998,593 1054,585 1117,579 1170,631 1088,633 1017,639 957,648 912,660Z M838,660 851,615 912,615 912,660Z M851,615 885,601 928,589 979,578 1038,570 1117,579 1054,585 998,593 950,603 912,615Z"/></g><use href="#e2" stroke-width="2.5"/>
<g stroke-width="13"><path id="e3" d="M724,624 746,608 777,592 817,577 866,562 911,606 846,620 793,635 753,652 729,669Z M659,681 667,633 724,624 729,669Z M667,633 683,616 708,599 742,582 784,565 866,562 817,577 777,592 746,608 724,624Z"/></g><use href="#e3" stroke-width="2.5"/>
<g stroke-width="13"><path id="e4" d="M1005,620 1051,612 1105,606 1167,602 1234,602 1289,657 1203,653 1125,653 1058,658 1003,666Z M930,660 945,616 1005,620 1003,666Z M945,616 987,605 1037,597 1095,590 1160,586 1234,602 1167,602 1105,606 1051,612 1005,620Z"/></g><use href="#e4" stroke-width="2.5"/>
<g stroke-width="13"><path id="e5" d="M636,640 648,622 669,604 700,586 739,568 779,609 725,627 683,646 655,666 642,684Z M577,701 583,653 636,640 642,684Z M583,653 588,635 603,616 627,597 660,577 739,568 700,586 669,604 648,622 636,640Z"/></g><use href="#e5" stroke-width="2.5"/>
<g stroke-width="13"><path id="e6" d="M1095,633 1147,629 1206,627 1272,628 1342,633 1398,692 1309,681 1227,676 1153,675 1092,678Z M1021,668 1038,624 1095,633 1092,678Z M1038,624 1086,617 1143,612 1206,611 1274,612 1342,633 1272,628 1206,627 1147,629 1095,633Z"/></g><use href="#e6" stroke-width="2.5"/>
<g stroke-width="13"><path id="e7" d="M554,662 556,644 567,624 588,604 616,584 650,622 608,644 579,666 563,687 562,706Z M504,727 507,679 554,662 562,706Z M507,679 502,661 507,641 520,620 542,599 616,584 588,604 567,624 556,644 554,662Z"/></g><use href="#e7" stroke-width="2.5"/>
<g stroke-width="13"><path id="e8" d="M1180,653 1236,652 1299,655 1366,661 1438,671 1492,735 1403,718 1319,706 1241,699 1174,697Z M1109,681 1127,640 1180,653 1174,697Z M1127,640 1180,636 1241,636 1307,639 1378,646 1438,671 1366,661 1299,655 1236,652 1180,653Z"/></g><use href="#e8" stroke-width="2.5"/>
<g stroke-width="13"><path id="e9" d="M441,758 421,740 413,719 418,695 435,669 432,629 422,652 420,673 426,693 441,710Z M482,689 474,672 474,652 483,631 501,609 526,644 498,669 483,692 480,714 491,733Z M441,758 441,710 482,689 491,733Z M441,710 426,693 420,673 422,652 432,629 501,609 483,631 474,652 474,672 482,689Z"/></g><use href="#e9" stroke-width="2.5"/>
<g stroke-width="13"><path id="e10" d="M1256,678 1315,682 1380,690 1448,701 1518,717 1569,785 1482,760 1399,742 1320,729 1249,722Z M1190,702 1208,661 1256,678 1249,722Z M1208,661 1266,662 1329,667 1397,675 1469,687 1518,717 1448,701 1380,690 1315,682 1256,678Z"/></g><use href="#e10" stroke-width="2.5"/>
<g stroke-width="13"><path id="e11" d="M390,794 359,778 338,757 329,733 331,707 336,667 337,690 346,711 363,730 387,746Z M390,794 387,746 420,722 430,765Z M387,746 363,730 346,711 337,690 336,667 396,642 390,665 392,686 402,705 420,722Z"/></g><use href="#e11" stroke-width="2.5"/>
<g stroke-width="13"><path id="e12" d="M1322,709 1383,718 1447,730 1513,747 1581,768 1628,839 1546,809 1465,784 1386,765 1314,753Z M1263,728 1281,689 1322,709 1314,753Z M1281,689 1341,694 1406,704 1473,717 1543,734 1581,768 1513,747 1447,730 1383,718 1322,709Z"/></g><use href="#e12" stroke-width="2.5"/>
<g stroke-width="13"><path id="e13" d="M353,832 311,820 278,801 255,778 243,752 254,712 267,734 287,754 314,771 346,785Z M353,832 346,785 371,759 382,801Z M346,785 314,771 287,754 267,734 254,712 304,682 310,705 323,726 343,744 371,759Z"/></g><use href="#e13" stroke-width="2.5"/>
<g stroke-width="13"><path id="e14" d="M1376,745 1437,758 1499,775 1562,797 1625,823 1666,898 1591,861 1515,830 1439,806 1366,788Z M1325,760 1343,722 1376,745 1366,788Z M1343,722 1404,732 1468,746 1533,764 1599,787 1625,823 1562,797 1499,775 1437,758 1376,745Z"/></g><use href="#e14" stroke-width="2.5"/>
<g stroke-width="13"><path id="e15" d="M330,874 279,864 235,849 198,828 172,804 189,762 213,783 244,801 280,816 321,827Z M330,874 321,827 335,800 347,841Z M321,827 280,816 244,801 213,783 189,762 228,729 245,751 270,771 300,787 335,800Z"/></g><use href="#e15" stroke-width="2.5"/>
<g stroke-width="13"><path id="e16" d="M1417,784 1475,802 1534,824 1592,850 1648,880 1683,958 1617,916 1548,880 1476,849 1406,826Z M1375,795 1393,759 1417,784 1406,826Z M1671,910 1636,843 1648,880 1683,958Z M1393,759 1452,773 1514,793 1575,816 1636,843 1648,880 1592,850 1534,824 1475,802 1417,784Z"/></g><use href="#e16" stroke-width="2.5"/>
<g stroke-width="13"><path id="e17" d="M322,916 263,911 209,899 160,882 120,860 143,817 178,835 218,851 263,862 310,870Z M322,916 310,870 315,842 327,882Z M310,870 263,862 218,851 178,835 143,817 170,781 198,802 233,819 272,832 315,842Z"/></g><use href="#e17" stroke-width="2.5"/>
<g stroke-width="13"><path id="e18" d="M1443,826 1498,848 1551,874 1603,904 1651,939 1678,1019 1623,972 1562,931 1498,896 1431,867Z M1412,834 1428,799 1443,826 1431,867Z M1684,970 1652,901 1651,939 1678,1019Z M1428,799 1485,818 1542,842 1598,869 1652,901 1651,939 1603,904 1551,874 1498,848 1443,826Z"/></g><use href="#e18" stroke-width="2.5"/>
<g stroke-width="13"><path id="e19" d="M329,958 264,958 201,951 142,938 89,919 117,874 162,890 211,902 262,910 315,913Z M329,958 315,913 310,886 322,925Z M89,919 117,874 131,837 112,871Z M315,913 262,910 211,902 162,890 117,874 131,837 170,855 213,869 261,879 310,886Z"/></g><use href="#e19" stroke-width="2.5"/></g>
<ellipse cx="882" cy="905" rx="560" ry="262" fill="#fff" stroke="#231f20" stroke-width="5.5"/>
<ellipse cx="882" cy="912" rx="540" ry="248" fill="#fff" stroke="#231f20" stroke-width="5.5"/>
<ellipse cx="882" cy="918" rx="520" ry="236" fill="none" stroke="#231f20" stroke-width="4" />
<path d="M353,898 L353,948 Q379.0,971.1 405,972.2 Q431.0,971.1 457,948 L457,898 Z" fill="#fff" stroke="#231f20" stroke-width="5.5" stroke-linejoin="round" stroke-linecap="round" />
<ellipse cx="405" cy="898" rx="52" ry="22" fill="#fff" stroke="#231f20" stroke-width="5.5"/>
<path d="M381.6,917.8 L381.6,968.9 M428.4,917.8 L428.4,968.9" fill="none" stroke="#231f20" stroke-width="3.8499999999999996" stroke-linejoin="round" stroke-linecap="round" />
<path d="M1305,898 L1305,948 Q1331.0,971.1 1357,972.2 Q1383.0,971.1 1409,948 L1409,898 Z" fill="#fff" stroke="#231f20" stroke-width="5.5" stroke-linejoin="round" stroke-linecap="round" />
<ellipse cx="1357" cy="898" rx="52" ry="22" fill="#fff" stroke="#231f20" stroke-width="5.5"/>
<path d="M1333.6,917.8 L1333.6,968.9 M1380.4,917.8 L1380.4,968.9" fill="none" stroke="#231f20" stroke-width="3.8499999999999996" stroke-linejoin="round" stroke-linecap="round" />
<ellipse cx="882" cy="975" rx="418" ry="140" fill="#fff" stroke="#231f20" stroke-width="5.5"/>
<ellipse cx="882" cy="962" rx="405" ry="133" fill="#fff" stroke="#231f20" stroke-width="5.5"/>
<path d="M490,720 L490,955 A392,130 0 0 0 1275,955 L1275,720 Z" fill="#fff" stroke="#231f20" stroke-width="6" stroke-linejoin="round" stroke-linecap="round" />
<path d="M1272.5,951.3 A392,130 0 0 1 491.5,951.3" fill="none" stroke="#231f20" stroke-width="4" />
<ellipse cx="882" cy="720" rx="392" ry="135" fill="#fff" stroke="#231f20" stroke-width="6"/>
<path d="M515,267 L515,690 L565,690 L565,267 Z" fill="#fff" stroke="#231f20" stroke-width="5.5" stroke-linejoin="round" stroke-linecap="round" />
<path d="M503,205 L503,267 Q540,287.8 577,267 L577,205 Z" fill="#fff" stroke="#231f20" stroke-width="5.5" stroke-linejoin="round" stroke-linecap="round" />
<ellipse cx="540" cy="205" rx="37" ry="13" fill="#fff" stroke="#231f20" stroke-width="5.5"/>
<ellipse cx="540" cy="206" rx="20" ry="7" fill="none" stroke="#231f20" stroke-width="4.4"/>
<path d="M570,232 L570,690 L620,690 L620,232 Z" fill="#fff" stroke="#231f20" stroke-width="5.5" stroke-linejoin="round" stroke-linecap="round" />
<path d="M558,170 L558,232 Q595,252.8 632,232 L632,170 Z" fill="#fff" stroke="#231f20" stroke-width="5.5" stroke-linejoin="round" stroke-linecap="round" />
<ellipse cx="595" cy="170" rx="37" ry="13" fill="#fff" stroke="#231f20" stroke-width="5.5"/>
<ellipse cx="595" cy="171" rx="20" ry="7" fill="none" stroke="#231f20" stroke-width="4.4"/>
<path d="M650,202 L650,690 L700,690 L700,202 Z" fill="#fff" stroke="#231f20" stroke-width="5.5" stroke-linejoin="round" stroke-linecap="round" />
<path d="M638,140 L638,202 Q675,222.8 712,202 L712,140 Z" fill="#fff" stroke="#231f20" stroke-width="5.5" stroke-linejoin="round" stroke-linecap="round" />
<ellipse cx="675" cy="140" rx="37" ry="13" fill="#fff" stroke="#231f20" stroke-width="5.5"/>
<ellipse cx="675" cy="141" rx="20" ry="7" fill="none" stroke="#231f20" stroke-width="4.4"/>
<path d="M750,187 L750,690 L800,690 L800,187 Z" fill="#fff" stroke="#231f20" stroke-width="5.5" stroke-linejoin="round" stroke-linecap="round" />
<path d="M738,125 L738,187 Q775,207.8 812,187 L812,125 Z" fill="#fff" stroke="#231f20" stroke-width="5.5" stroke-linejoin="round" stroke-linecap="round" />
<ellipse cx="775" cy="125" rx="37" ry="13" fill="#fff" stroke="#231f20" stroke-width="5.5"/>
<ellipse cx="775" cy="126" rx="20" ry="7" fill="none" stroke="#231f20" stroke-width="4.4"/>
<path d="M960,187 L960,690 L1010,690 L1010,187 Z" fill="#fff" stroke="#231f20" stroke-width="5.5" stroke-linejoin="round" stroke-linecap="round" />
<path d="M948,125 L948,187 Q985,207.8 1022,187 L1022,125 Z" fill="#fff" stroke="#231f20" stroke-width="5.5" stroke-linejoin="round" stroke-linecap="round" />
<ellipse cx="985" cy="125" rx="37" ry="13" fill="#fff" stroke="#231f20" stroke-width="5.5"/>
<ellipse cx="985" cy="126" rx="20" ry="7" fill="none" stroke="#231f20" stroke-width="4.4"/>
<path d="M1060,202 L1060,690 L1110,690 L1110,202 Z" fill="#fff" stroke="#231f20" stroke-width="5.5" stroke-linejoin="round" stroke-linecap="round" />
<path d="M1048,140 L1048,202 Q1085,222.8 1122,202 L1122,140 Z" fill="#fff" stroke="#231f20" stroke-width="5.5" stroke-linejoin="round" stroke-linecap="round" />
<ellipse cx="1085" cy="140" rx="37" ry="13" fill="#fff" stroke="#231f20" stroke-width="5.5"/>
<ellipse cx="1085" cy="141" rx="20" ry="7" fill="none" stroke="#231f20" stroke-width="4.4"/>
<path d="M1140,227 L1140,690 L1190,690 L1190,227 Z" fill="#fff" stroke="#231f20" stroke-width="5.5" stroke-linejoin="round" stroke-linecap="round" />
<path d="M1128,165 L1128,227 Q1165,247.8 1202,227 L1202,165 Z" fill="#fff" stroke="#231f20" stroke-width="5.5" stroke-linejoin="round" stroke-linecap="round" />
<ellipse cx="1165" cy="165" rx="37" ry="13" fill="#fff" stroke="#231f20" stroke-width="5.5"/>
<ellipse cx="1165" cy="166" rx="20" ry="7" fill="none" stroke="#231f20" stroke-width="4.4"/>
<path d="M1195,262 L1195,690 L1245,690 L1245,262 Z" fill="#fff" stroke="#231f20" stroke-width="5.5" stroke-linejoin="round" stroke-linecap="round" />
<path d="M1183,200 L1183,262 Q1220,282.8 1257,262 L1257,200 Z" fill="#fff" stroke="#231f20" stroke-width="5.5" stroke-linejoin="round" stroke-linecap="round" />
<ellipse cx="1220" cy="200" rx="37" ry="13" fill="#fff" stroke="#231f20" stroke-width="5.5"/>
<ellipse cx="1220" cy="201" rx="20" ry="7" fill="none" stroke="#231f20" stroke-width="4.4"/>
<path d="M505,342 L505,690 L555,690 L555,342 Z" fill="#fff" stroke="#231f20" stroke-width="5.5" stroke-linejoin="round" stroke-linecap="round" />
<path d="M493,280 L493,342 Q530,362.8 567,342 L567,280 Z" fill="#fff" stroke="#231f20" stroke-width="5.5" stroke-linejoin="round" stroke-linecap="round" />
<ellipse cx="530" cy="280" rx="37" ry="13" fill="#fff" stroke="#231f20" stroke-width="5.5"/>
<ellipse cx="530" cy="281" rx="20" ry="7" fill="none" stroke="#231f20" stroke-width="4.4"/>
<path d="M1205,342 L1205,690 L1255,690 L1255,342 Z" fill="#fff" stroke="#231f20" stroke-width="5.5" stroke-linejoin="round" stroke-linecap="round" />
<path d="M1193,280 L1193,342 Q1230,362.8 1267,342 L1267,280 Z" fill="#fff" stroke="#231f20" stroke-width="5.5" stroke-linejoin="round" stroke-linecap="round" />
<ellipse cx="1230" cy="280" rx="37" ry="13" fill="#fff" stroke="#231f20" stroke-width="5.5"/>
<ellipse cx="1230" cy="281" rx="20" ry="7" fill="none" stroke="#231f20" stroke-width="4.4"/>
<ellipse cx="540" cy="533" rx="48" ry="16" fill="#fff" stroke="#231f20" stroke-width="5"/><ellipse cx="540" cy="525" rx="48" ry="16" fill="#fff" stroke="#231f20" stroke-width="5"/>
<ellipse cx="1225" cy="533" rx="48" ry="16" fill="#fff" stroke="#231f20" stroke-width="5"/><ellipse cx="1225" cy="525" rx="48" ry="16" fill="#fff" stroke="#231f20" stroke-width="5"/>
<ellipse cx="882" cy="705" rx="292" ry="98" fill="#fff" stroke="#231f20" stroke-width="5.5"/>
<ellipse cx="882" cy="700" rx="272" ry="88" fill="none" stroke="#231f20" stroke-width="4" />
<path d="M640,480 L625,690 A258,80 0 0 0 1140,690 L1125,480 Z" fill="#fff" stroke="#231f20" stroke-width="5.5" stroke-linejoin="round" stroke-linecap="round" />
<path d="M620,600 Q882,660 1145,600 M622,625 Q882,690 1143,625" fill="none" stroke="#231f20" stroke-width="5" stroke-linejoin="round" stroke-linecap="round" />
<path d="M805,690 Q800,730 815,770 L950,770 Q965,730 958,690 Z" fill="#fff" stroke="#231f20" stroke-width="5.5" stroke-linejoin="round" stroke-linecap="round" />
<path d="M700,420 L672,590 A212,60 0 0 0 1092,590 L1064,420 Z" fill="#fff" stroke="#231f20" stroke-width="5.5" stroke-linejoin="round" stroke-linecap="round" />
<path d="M1094.0,590.0 A212,60 0 0 1 670.0,590.0" fill="none" stroke="#231f20" stroke-width="5.5" />
<path d="M720,529 L726,587 L760,587 L760,529 Z" fill="#fff" stroke="#231f20" stroke-width="5" stroke-linejoin="round" stroke-linecap="round" />
<path d="M774,521 L780,593 L814,593 L814,521 Z" fill="#fff" stroke="#231f20" stroke-width="5" stroke-linejoin="round" stroke-linecap="round" />
<path d="M828,513 L834,599 L868,599 L868,513 Z" fill="#fff" stroke="#231f20" stroke-width="5" stroke-linejoin="round" stroke-linecap="round" />
<path d="M882,505 L888,605 L922,605 L922,505 Z" fill="#fff" stroke="#231f20" stroke-width="5" stroke-linejoin="round" stroke-linecap="round" />
<path d="M936,513 L942,599 L976,599 L976,513 Z" fill="#fff" stroke="#231f20" stroke-width="5" stroke-linejoin="round" stroke-linecap="round" />
<path d="M990,521 L996,593 L1030,593 L1030,521 Z" fill="#fff" stroke="#231f20" stroke-width="5" stroke-linejoin="round" stroke-linecap="round" />
<path d="M1044,529 L1050,587 L1084,587 L1084,529 Z" fill="#fff" stroke="#231f20" stroke-width="5" stroke-linejoin="round" stroke-linecap="round" />
<ellipse cx="882" cy="420" rx="185" ry="62" fill="#fff" stroke="#231f20" stroke-width="5.5"/>
<path d="M1067.0,440.0 A185,62 0 0 1 697.0,440.0" fill="none" stroke="#231f20" stroke-width="5" />
<path d="M1061.3,460.1 A180,58 0 0 1 702.7,460.1" fill="none" stroke="#231f20" stroke-width="4" />
<ellipse cx="882" cy="415" rx="160" ry="50" fill="#fff" stroke="#231f20" stroke-width="5"/>
<ellipse cx="882" cy="418" rx="135" ry="38" fill="#fff" stroke="#231f20" stroke-width="4.5"/>
<ellipse cx="545" cy="732" rx="25" ry="12" fill="#fff" stroke="#231f20" stroke-width="5"/>
<ellipse cx="590" cy="772" rx="25" ry="12" fill="#fff" stroke="#231f20" stroke-width="5"/>
<ellipse cx="668" cy="802" rx="25" ry="12" fill="#fff" stroke="#231f20" stroke-width="5"/>
<ellipse cx="770" cy="825" rx="25" ry="12" fill="#fff" stroke="#231f20" stroke-width="5"/>
<ellipse cx="990" cy="825" rx="25" ry="12" fill="#fff" stroke="#231f20" stroke-width="5"/>
<ellipse cx="1090" cy="802" rx="25" ry="12" fill="#fff" stroke="#231f20" stroke-width="5"/>
<ellipse cx="1165" cy="772" rx="25" ry="12" fill="#fff" stroke="#231f20" stroke-width="5"/>
<ellipse cx="1215" cy="735" rx="25" ry="12" fill="#fff" stroke="#231f20" stroke-width="5"/>
<path d="M553,372 L553,720 L603,720 L603,372 Z" fill="#fff" stroke="#231f20" stroke-width="5.5" stroke-linejoin="round" stroke-linecap="round" />
<path d="M541,310 L541,372 Q578,392.8 615,372 L615,310 Z" fill="#fff" stroke="#231f20" stroke-width="5.5" stroke-linejoin="round" stroke-linecap="round" />
<ellipse cx="578" cy="310" rx="37" ry="13" fill="#fff" stroke="#231f20" stroke-width="5.5"/>
<ellipse cx="578" cy="311" rx="20" ry="7" fill="none" stroke="#231f20" stroke-width="4.4"/>
<path d="M1155,372 L1155,720 L1205,720 L1205,372 Z" fill="#fff" stroke="#231f20" stroke-width="5.5" stroke-linejoin="round" stroke-linecap="round" />
<path d="M1143,310 L1143,372 Q1180,392.8 1217,372 L1217,310 Z" fill="#fff" stroke="#231f20" stroke-width="5.5" stroke-linejoin="round" stroke-linecap="round" />
<ellipse cx="1180" cy="310" rx="37" ry="13" fill="#fff" stroke="#231f20" stroke-width="5.5"/>
<ellipse cx="1180" cy="311" rx="20" ry="7" fill="none" stroke="#231f20" stroke-width="4.4"/>
<path d="M638,402 L638,750 L688,750 L688,402 Z" fill="#fff" stroke="#231f20" stroke-width="5.5" stroke-linejoin="round" stroke-linecap="round" />
<path d="M626,340 L626,402 Q663,422.8 700,402 L700,340 Z" fill="#fff" stroke="#231f20" stroke-width="5.5" stroke-linejoin="round" stroke-linecap="round" />
<ellipse cx="663" cy="340" rx="37" ry="13" fill="#fff" stroke="#231f20" stroke-width="5.5"/>
<ellipse cx="663" cy="341" rx="20" ry="7" fill="none" stroke="#231f20" stroke-width="4.4"/>
<path d="M1075,402 L1075,750 L1125,750 L1125,402 Z" fill="#fff" stroke="#231f20" stroke-width="5.5" stroke-linejoin="round" stroke-linecap="round" />
<path d="M1063,340 L1063,402 Q1100,422.8 1137,402 L1137,340 Z" fill="#fff" stroke="#231f20" stroke-width="5.5" stroke-linejoin="round" stroke-linecap="round" />
<ellipse cx="1100" cy="340" rx="37" ry="13" fill="#fff" stroke="#231f20" stroke-width="5.5"/>
<ellipse cx="1100" cy="341" rx="20" ry="7" fill="none" stroke="#231f20" stroke-width="4.4"/>
<path d="M740,427 L740,775 L790,775 L790,427 Z" fill="#fff" stroke="#231f20" stroke-width="5.5" stroke-linejoin="round" stroke-linecap="round" />
<path d="M728,365 L728,427 Q765,447.8 802,427 L802,365 Z" fill="#fff" stroke="#231f20" stroke-width="5.5" stroke-linejoin="round" stroke-linecap="round" />
<ellipse cx="765" cy="365" rx="37" ry="13" fill="#fff" stroke="#231f20" stroke-width="5.5"/>
<ellipse cx="765" cy="366" rx="20" ry="7" fill="none" stroke="#231f20" stroke-width="4.4"/>
<path d="M965,427 L965,775 L1015,775 L1015,427 Z" fill="#fff" stroke="#231f20" stroke-width="5.5" stroke-linejoin="round" stroke-linecap="round" />
<path d="M953,365 L953,427 Q990,447.8 1027,427 L1027,365 Z" fill="#fff" stroke="#231f20" stroke-width="5.5" stroke-linejoin="round" stroke-linecap="round" />
<ellipse cx="990" cy="365" rx="37" ry="13" fill="#fff" stroke="#231f20" stroke-width="5.5"/>
<ellipse cx="990" cy="366" rx="20" ry="7" fill="none" stroke="#231f20" stroke-width="4.4"/>
<ellipse cx="578" cy="580" rx="48" ry="16" fill="#fff" stroke="#231f20" stroke-width="5"/><ellipse cx="578" cy="572" rx="48" ry="16" fill="#fff" stroke="#231f20" stroke-width="5"/>
<path d="M553,566 L553,574 M603,566 L603,574" fill="none" stroke="#231f20" stroke-width="5" stroke-linejoin="round" stroke-linecap="round" />
<ellipse cx="1180" cy="580" rx="48" ry="16" fill="#fff" stroke="#231f20" stroke-width="5"/><ellipse cx="1180" cy="572" rx="48" ry="16" fill="#fff" stroke="#231f20" stroke-width="5"/>
<path d="M1155,566 L1155,574 M1205,566 L1205,574" fill="none" stroke="#231f20" stroke-width="5" stroke-linejoin="round" stroke-linecap="round" />
<ellipse cx="663" cy="606" rx="48" ry="16" fill="#fff" stroke="#231f20" stroke-width="5"/><ellipse cx="663" cy="598" rx="48" ry="16" fill="#fff" stroke="#231f20" stroke-width="5"/>
<path d="M638,592 L638,600 M688,592 L688,600" fill="none" stroke="#231f20" stroke-width="5" stroke-linejoin="round" stroke-linecap="round" />
<ellipse cx="1100" cy="606" rx="48" ry="16" fill="#fff" stroke="#231f20" stroke-width="5"/><ellipse cx="1100" cy="598" rx="48" ry="16" fill="#fff" stroke="#231f20" stroke-width="5"/>
<path d="M1075,592 L1075,600 M1125,592 L1125,600" fill="none" stroke="#231f20" stroke-width="5" stroke-linejoin="round" stroke-linecap="round" />
<ellipse cx="765" cy="626" rx="48" ry="16" fill="#fff" stroke="#231f20" stroke-width="5"/><ellipse cx="765" cy="618" rx="48" ry="16" fill="#fff" stroke="#231f20" stroke-width="5"/>
<path d="M740,612 L740,620 M790,612 L790,620" fill="none" stroke="#231f20" stroke-width="5" stroke-linejoin="round" stroke-linecap="round" />
<ellipse cx="990" cy="626" rx="48" ry="16" fill="#fff" stroke="#231f20" stroke-width="5"/><ellipse cx="990" cy="618" rx="48" ry="16" fill="#fff" stroke="#231f20" stroke-width="5"/>
<path d="M965,612 L965,620 M1015,612 L1015,620" fill="none" stroke="#231f20" stroke-width="5" stroke-linejoin="round" stroke-linecap="round" />
<g fill="#fff" stroke="#231f20" stroke-linejoin="round"><g stroke-width="13"><path id="e20" d="M1454,869 1503,895 1551,925 1594,959 1633,997 1652,1059 1609,1010 1558,966 1502,927 1442,895Z M1435,862 1449,842 1454,869 1442,895Z M1675,1011 1647,960 1633,997 1652,1059Z M1449,842 1502,865 1553,893 1602,924 1647,960 1633,997 1594,959 1551,925 1503,895 1454,869Z"/></g><use href="#e20" stroke-width="2.5"/>
<g stroke-width="13"><path id="e21" d="M352,986 282,989 212,985 144,975 80,960 112,932 166,944 222,952 279,956 336,956Z M80,960 112,932 113,895 86,911Z M336,956 279,956 222,952 166,944 112,932 113,895 161,909 213,920 266,927 321,929Z"/></g><use href="#e21" stroke-width="2.5"/>
<g stroke-width="13"><path id="e22" d="M1449,913 1492,942 1531,975 1566,1012 1594,1052 1604,1116 1575,1064 1536,1016 1490,974 1437,938Z M1442,904 1454,885 1449,913 1437,938Z M1644,1070 1621,1017 1594,1052 1604,1116Z M1454,885 1501,912 1546,943 1586,978 1621,1017 1594,1052 1566,1012 1531,975 1492,942 1449,913Z"/></g><use href="#e22" stroke-width="2.5"/>
<g stroke-width="13"><path id="e23" d="M389,1025 316,1033 241,1035 166,1031 93,1020 128,991 189,998 250,1002 312,1001 371,996Z M93,1020 128,991 116,953 81,972Z M371,996 312,1001 250,1002 189,998 128,991 116,953 172,964 230,970 289,973 347,971Z"/></g><use href="#e23" stroke-width="2.5"/>
<g stroke-width="13"><path id="e24" d="M1429,955 1464,987 1494,1024 1519,1063 1536,1104 1537,1168 1522,1115 1496,1065 1461,1019 1417,979Z M1592,1126 1575,1072 1536,1104 1537,1168Z M1443,928 1484,959 1520,993 1551,1031 1575,1072 1536,1104 1519,1063 1494,1024 1464,987 1429,955Z"/></g><use href="#e24" stroke-width="2.5"/>
<g stroke-width="13"><path id="e25" d="M439,1060 366,1075 288,1082 208,1084 127,1079 165,1047 231,1049 296,1048 360,1043 421,1033Z M127,1079 165,1047 139,1011 98,1032Z M421,1033 360,1043 296,1048 231,1049 165,1047 139,1011 202,1017 265,1019 327,1016 388,1010Z"/></g><use href="#e25" stroke-width="2.5"/>
<g stroke-width="13"><path id="e26" d="M1393,995 1421,1030 1441,1068 1454,1109 1460,1151 1452,1215 1451,1161 1439,1109 1416,1062 1382,1019Z M1521,1178 1510,1122 1460,1151 1452,1215Z M1418,970 1450,1003 1477,1040 1497,1080 1510,1122 1460,1151 1454,1109 1441,1068 1421,1030 1393,995Z"/></g><use href="#e26" stroke-width="2.5"/>
<g stroke-width="13"><path id="e27" d="M501,1092 430,1112 351,1125 268,1133 182,1135 221,1099 291,1097 358,1090 423,1080 483,1066Z M182,1135 221,1099 183,1066 136,1091Z M483,1066 423,1080 358,1090 291,1097 221,1099 183,1066 251,1067 317,1064 381,1057 442,1045Z"/></g><use href="#e27" stroke-width="2.5"/>
<g stroke-width="13"><path id="e28" d="M1344,1033 1362,1069 1372,1108 1374,1149 1368,1192 1351,1254 1365,1201 1367,1149 1356,1100 1334,1055Z M1433,1223 1428,1167 1368,1192 1351,1254Z M1377,1009 1401,1045 1418,1083 1427,1124 1428,1167 1368,1192 1374,1149 1372,1108 1362,1069 1344,1033Z"/></g><use href="#e28" stroke-width="2.5"/>
<g stroke-width="13"><path id="e29" d="M574,1118 506,1143 428,1163 344,1177 255,1185 295,1147 367,1139 435,1127 498,1112 556,1094Z M255,1185 295,1147 246,1117 195,1145Z M556,1094 498,1112 435,1127 367,1139 295,1147 246,1117 316,1113 384,1104 449,1092 508,1076Z"/></g><use href="#e29" stroke-width="2.5"/>
<g stroke-width="13"><path id="e30" d="M1282,1065 1290,1103 1290,1142 1281,1183 1263,1225 1238,1286 1266,1234 1281,1183 1284,1133 1273,1087Z M1329,1261 1332,1205 1263,1225 1238,1286Z M1323,1045 1338,1082 1344,1121 1342,1162 1332,1205 1263,1225 1281,1183 1290,1142 1290,1103 1282,1065Z"/></g><use href="#e30" stroke-width="2.5"/>
<g stroke-width="13"><path id="e31" d="M655,1139 592,1168 518,1194 436,1214 346,1230 386,1188 457,1175 523,1158 584,1138 637,1115Z M346,1230 386,1188 326,1162 272,1195Z M637,1115 584,1138 523,1158 457,1175 386,1188 326,1162 398,1153 465,1139 528,1122 584,1102Z"/></g><use href="#e31" stroke-width="2.5"/>
<g stroke-width="13"><path id="e32" d="M1260,1093 1268,1139 1263,1189 1245,1239 1214,1291 1222,1235 1244,1194 1257,1153 1262,1114 1257,1076Z M1214,1291 1222,1235 1148,1250 1114,1308Z M1257,1076 1262,1114 1257,1153 1244,1194 1222,1235 1148,1250 1176,1210 1197,1170 1208,1131 1210,1093Z"/></g><use href="#e32" stroke-width="2.5"/>
<g stroke-width="13"><path id="e33" d="M743,1152 687,1187 618,1218 539,1244 452,1266 490,1222 558,1203 621,1182 678,1157 726,1131Z M452,1266 490,1222 422,1201 366,1238Z M726,1131 678,1157 621,1182 558,1203 490,1222 422,1201 492,1186 558,1167 617,1146 669,1122Z"/></g><use href="#e33" stroke-width="2.5"/>
<g stroke-width="13"><path id="e34" d="M1187,1119 1183,1166 1165,1214 1134,1263 1089,1311 1104,1256 1137,1217 1161,1178 1176,1139 1181,1102Z M1089,1311 1104,1256 1025,1265 985,1321Z M1181,1102 1176,1139 1161,1178 1137,1217 1104,1256 1025,1265 1064,1228 1095,1190 1116,1152 1128,1115Z"/></g><use href="#e34" stroke-width="2.5"/>
<g stroke-width="13"><path id="e35" d="M834,1160 786,1198 725,1234 652,1266 569,1295 604,1247 669,1224 727,1198 777,1169 819,1139Z M569,1295 604,1247 530,1232 475,1273Z M819,1139 777,1169 727,1198 669,1224 604,1247 530,1232 597,1212 659,1188 713,1162 759,1134Z"/></g><use href="#e35" stroke-width="2.5"/>
<g stroke-width="13"><path id="e36" d="M1105,1139 1090,1185 1059,1231 1015,1278 959,1322 980,1268 1022,1232 1056,1195 1081,1158 1097,1121Z M959,1322 980,1268 898,1271 853,1324Z M1097,1121 1081,1158 1056,1195 1022,1232 980,1268 898,1271 947,1237 987,1202 1018,1166 1040,1130Z"/></g><use href="#e36" stroke-width="2.5"/>
<g stroke-width="13"><path id="e37" d="M926,1160 889,1201 836,1242 771,1279 695,1314 726,1264 785,1236 836,1205 879,1173 913,1140Z M695,1314 726,1264 647,1254 594,1299Z M913,1140 879,1173 836,1205 785,1236 726,1264 647,1254 710,1229 766,1201 814,1172 852,1140Z"/></g><use href="#e37" stroke-width="2.5"/>
<g stroke-width="13"><path id="e38" d="M1017,1153 991,1197 948,1241 893,1283 826,1323 852,1271 904,1238 947,1204 982,1170 1007,1134Z M826,1323 852,1271 771,1268 721,1316Z M1007,1134 982,1170 947,1204 904,1238 852,1271 771,1268 828,1238 876,1206 916,1173 947,1139Z"/></g><use href="#e38" stroke-width="2.5"/></g>
<circle cx="878" cy="1087" r="50" fill="#fff" stroke="#231f20" stroke-width="5.5"/>
<circle cx="880" cy="1087" r="9" fill="#fff" stroke="#231f20" stroke-width="4"/>
<path d="M830,1100 L800,1120 M925,1100 L960,1112" fill="none" stroke="#231f20" stroke-width="5" stroke-linejoin="round" stroke-linecap="round" />
<path d="M720,150 A58,24 0 0 0 740,180 M845,145 A58,24 0 0 1 790,190" fill="none" stroke="#ed1c24" stroke-width="6"/>
<polygon points="775,190 800,176 800,203" fill="#ed1c24"/><polygon points="712,165 716,142 732,158" fill="#ed1c24"/>
<polygon points="760,-103 799,-103 799,-18 825,-18 779,54 733,-18 760,-18" fill="#ed1c24"/>
<line x1="241" y1="54" x2="477.8" y2="191.8" stroke="#ed1c24" stroke-width="8.5"/><polygon points="540,228 437.5,205.4 477.8,191.8 469.7,150.0" fill="#ed1c24"/>
</g>
</svg>
<div class="lb" style="right:491.5px;top:279px;font-weight:400;font-size:19px;text-align:right">差壳连接螺栓</div>
<div class="lb" style="right:491.5px;top:305.5px;font-weight:400;font-size:19px;text-align:right">涂螺纹紧固胶 <b style="font-weight:700;font-size:18px">Loctite 277</b></div>
<div class="lb" style="right:491.5px;top:331px;font-weight:400;font-size:19px;text-align:right">拧紧力矩<b style="font-weight:700;font-size:18px">142</b><span class="pm">±</span><b style="font-weight:700;font-size:18px">12Nm</b></div>

<svg width="2913" height="2047" viewBox="0 0 2913 2047">
<g transform="translate(2320 870) scale(0.20463)">
<path d="M110,1385 L292,1303 Q285,1268 322,1246 L450,1235 L455,1420 L640,1415 L660,1560 L130,1560 Z" fill="#fff" stroke="#231f20" stroke-width="0.0" stroke-linejoin="round" stroke-linecap="round" />
<path d="M130,1560 L110,1385 L292,1303 Q285,1268 322,1246" fill="none" stroke="#231f20" stroke-width="11.2" stroke-linejoin="round" stroke-linecap="round" />
<path d="M140,1395 L405,1482 L410,1560 M405,1482 L640,1415" fill="none" stroke="#231f20" stroke-width="8.8" stroke-linejoin="round" stroke-linecap="round" />
<path d="M390,1270 L395,1445 M415,1270 L420,1435 M440,1265 L445,1400" fill="none" stroke="#231f20" stroke-width="6.2" stroke-linejoin="round" stroke-linecap="round" />
<g transform="translate(530 680) rotate(90)"><ellipse cx="0" cy="18" rx="598" ry="462" fill="#fff" stroke="#231f20" stroke-width="16.2"/>
<g fill="#fff" stroke="#231f20" stroke-linejoin="round"><path d="M-77,-332 -56,-351 -27,-370 9,-387 49,-402 95,-414 181,-398 132,-391 88,-381 48,-369 15,-354 -12,-337Z" stroke-width="12.5"/>
<path d="M-162,-312 -148,-335 -126,-358 -98,-380 -64,-401 -24,-420 64,-418 20,-404 -19,-387 -53,-368 -80,-348 -100,-328Z" stroke-width="12.5"/>
<path d="M12,-337 39,-353 75,-366 115,-377 161,-385 210,-390 290,-360 239,-361 191,-359 147,-353 109,-344 77,-332Z" stroke-width="12.5"/>
<path d="M-240,-280 -234,-304 -221,-330 -201,-356 -175,-382 -143,-407 -55,-418 -93,-398 -126,-375 -152,-352 -171,-328 -183,-305Z" stroke-width="12.5"/>
<path d="M100,-328 133,-339 172,-346 217,-350 265,-351 316,-347 386,-305 335,-315 286,-320 240,-321 198,-319 162,-312Z" stroke-width="12.5"/>
<path d="M-308,-236 -310,-260 -305,-287 -295,-316 -278,-345 -255,-374 -173,-400 -202,-374 -226,-347 -244,-320 -255,-294 -259,-269Z" stroke-width="12.5"/>
<path d="M183,-305 220,-310 263,-311 309,-308 357,-300 408,-288 465,-236 416,-254 368,-267 322,-276 279,-280 240,-280Z" stroke-width="12.5"/>
<path d="M-362,-181 -372,-205 -377,-232 -376,-261 -369,-293 -356,-325 -282,-363 -303,-333 -317,-303 -325,-274 -328,-246 -323,-222Z" stroke-width="12.5"/>
<path d="M259,-269 298,-268 341,-262 387,-251 435,-236 483,-216 524,-156 479,-182 434,-202 390,-218 347,-230 308,-236Z" stroke-width="12.5"/>
<path d="M-400,-120 -418,-141 -432,-166 -440,-195 -443,-227 -441,-261 -379,-310 -390,-277 -394,-245 -393,-216 -386,-189 -374,-166Z" stroke-width="12.5"/>
<path d="M323,-222 363,-215 405,-202 449,-184 493,-161 536,-134 560,-68 522,-101 482,-128 441,-151 401,-169 362,-181Z" stroke-width="12.5"/>
<path d="M-421,-53 -446,-71 -468,-94 -485,-120 -499,-151 -507,-184 -460,-242 -460,-208 -454,-177 -443,-148 -427,-123 -408,-103Z" stroke-width="12.5"/>
<path d="M374,-166 412,-152 451,-132 491,-108 529,-79 566,-45 572,23 541,-15 508,-48 473,-77 436,-101 400,-120Z" stroke-width="12.5"/>
<path d="M-424,15 -454,2 -483,-17 -509,-40 -532,-67 -551,-98 -521,-162 -510,-129 -494,-100 -474,-74 -450,-52 -424,-35Z" stroke-width="12.5"/>
<path d="M408,-103 443,-83 478,-57 511,-27 543,8 571,47 559,115 537,73 512,34 484,0 453,-29 421,-53Z" stroke-width="12.5"/>
<path d="M-408,83 -443,75 -478,61 -511,43 -543,20 -571,-7 -559,-75 -537,-45 -512,-18 -484,4 -453,21 -421,33Z" stroke-width="12.5"/>
<path d="M424,-35 454,-10 483,21 509,56 532,95 551,138 521,202 510,157 494,116 474,78 450,44 424,15Z" stroke-width="12.5"/>
<path d="M-374,146 -412,144 -451,136 -491,124 -529,107 -566,85 -572,17 -541,43 -508,64 -473,81 -436,93 -400,100Z" stroke-width="12.5"/>
<path d="M421,33 446,63 468,98 485,136 499,179 507,224 460,282 460,236 454,193 443,152 427,115 408,83Z" stroke-width="12.5"/>
<path d="M-323,202 -363,207 -405,206 -449,200 -493,189 -536,174 -560,108 -522,129 -482,144 -441,155 -401,161 -362,161Z" stroke-width="12.5"/>
<path d="M400,100 418,133 432,170 440,211 443,255 441,301 379,350 390,305 394,261 393,220 386,181 374,146Z" stroke-width="12.5"/>
<path d="M-259,249 -298,260 -341,266 -387,267 -435,264 -483,256 -524,196 -479,210 -434,218 -390,222 -347,222 -308,216Z" stroke-width="12.5"/>
<path d="M362,161 372,197 377,236 376,277 369,321 356,365 282,403 303,361 317,319 325,278 328,238 323,202Z" stroke-width="12.5"/>
<path d="M-183,285 -220,302 -263,315 -309,324 -357,328 -408,328 -465,276 -416,282 -368,283 -322,280 -279,272 -240,260Z" stroke-width="12.5"/>
<path d="M308,216 310,252 305,291 295,332 278,373 255,414 173,440 202,402 226,363 244,324 255,286 259,249Z" stroke-width="12.5"/>
<path d="M-100,308 -133,331 -172,350 -217,366 -265,379 -316,387 -386,345 -335,343 -286,336 -240,325 -198,311 -162,292Z" stroke-width="12.5"/>
<path d="M240,260 234,296 221,334 201,372 175,410 143,447 55,458 93,426 126,391 152,356 171,320 183,285Z" stroke-width="12.5"/>
<path d="M-12,317 -39,345 -75,370 -115,393 -161,413 -210,430 -290,400 -239,389 -191,375 -147,357 -109,336 -77,312Z" stroke-width="12.5"/>
<path d="M162,292 148,327 126,362 98,396 64,429 24,460 -64,458 -20,432 19,403 53,372 80,340 100,308Z" stroke-width="12.5"/>
<path d="M77,312 56,343 27,374 -9,403 -49,430 -95,454 -181,438 -132,419 -88,397 -48,373 -15,346 12,317Z" stroke-width="12.5"/></g></g>
<ellipse cx="560" cy="690" rx="345" ry="455" fill="#fff" stroke="#231f20" stroke-width="12.5"/>
<ellipse cx="575" cy="695" rx="320" ry="430" fill="#fff" stroke="#231f20" stroke-width="7.5"/>
<ellipse cx="434" cy="339" rx="36" ry="36" fill="#fff" stroke="#231f20" stroke-width="10.0"/>
<ellipse cx="448" cy="332" rx="28" ry="30" fill="#fff" stroke="#231f20" stroke-width="8.8"/>
<ellipse cx="624" cy="319" rx="36" ry="36" fill="#fff" stroke="#231f20" stroke-width="10.0"/>
<ellipse cx="638" cy="312" rx="28" ry="30" fill="#fff" stroke="#231f20" stroke-width="8.8"/>
<ellipse cx="339" cy="459" rx="36" ry="36" fill="#fff" stroke="#231f20" stroke-width="10.0"/>
<ellipse cx="353" cy="452" rx="28" ry="30" fill="#fff" stroke="#231f20" stroke-width="8.8"/>
<ellipse cx="286" cy="654" rx="36" ry="36" fill="#fff" stroke="#231f20" stroke-width="10.0"/>
<ellipse cx="300" cy="647" rx="28" ry="30" fill="#fff" stroke="#231f20" stroke-width="8.8"/>
<ellipse cx="316" cy="864" rx="36" ry="36" fill="#fff" stroke="#231f20" stroke-width="10.0"/>
<ellipse cx="330" cy="857" rx="28" ry="30" fill="#fff" stroke="#231f20" stroke-width="8.8"/>
<ellipse cx="402" cy="1014" rx="36" ry="36" fill="#fff" stroke="#231f20" stroke-width="10.0"/>
<ellipse cx="416" cy="1007" rx="28" ry="30" fill="#fff" stroke="#231f20" stroke-width="8.8"/>
<ellipse cx="551" cy="1084" rx="36" ry="36" fill="#fff" stroke="#231f20" stroke-width="10.0"/>
<ellipse cx="565" cy="1077" rx="28" ry="30" fill="#fff" stroke="#231f20" stroke-width="8.8"/>
<ellipse cx="610" cy="715" rx="255" ry="370" fill="#fff" stroke="#231f20" stroke-width="12.5"/>
<ellipse cx="640" cy="715" rx="215" ry="345" fill="#fff" stroke="#231f20" stroke-width="8.8"/>
<ellipse cx="690" cy="710" rx="185" ry="300" fill="#fff" stroke="#231f20" stroke-width="11.2"/>
<ellipse cx="425" cy="750" rx="45" ry="62" fill="#fff" stroke="#231f20" stroke-width="8.8"/>
<path d="M445,560 Q420,700 470,880" fill="none" stroke="#231f20" stroke-width="7.5" stroke-linejoin="round" stroke-linecap="round" />
<ellipse cx="695" cy="433" rx="30" ry="30" fill="#fff" stroke="#231f20" stroke-width="10.0"/>
<ellipse cx="707" cy="428" rx="22" ry="24" fill="#fff" stroke="#231f20" stroke-width="7.5"/>
<ellipse cx="800" cy="443" rx="30" ry="30" fill="#fff" stroke="#231f20" stroke-width="10.0"/>
<ellipse cx="812" cy="438" rx="22" ry="24" fill="#fff" stroke="#231f20" stroke-width="7.5"/>
<ellipse cx="630" cy="483" rx="30" ry="30" fill="#fff" stroke="#231f20" stroke-width="10.0"/>
<ellipse cx="642" cy="478" rx="22" ry="24" fill="#fff" stroke="#231f20" stroke-width="7.5"/>
<ellipse cx="577" cy="548" rx="30" ry="30" fill="#fff" stroke="#231f20" stroke-width="10.0"/>
<ellipse cx="589" cy="543" rx="22" ry="24" fill="#fff" stroke="#231f20" stroke-width="7.5"/>
<ellipse cx="543" cy="648" rx="30" ry="30" fill="#fff" stroke="#231f20" stroke-width="10.0"/>
<ellipse cx="555" cy="643" rx="22" ry="24" fill="#fff" stroke="#231f20" stroke-width="7.5"/>
<ellipse cx="595" cy="883" rx="30" ry="30" fill="#fff" stroke="#231f20" stroke-width="10.0"/>
<ellipse cx="607" cy="878" rx="22" ry="24" fill="#fff" stroke="#231f20" stroke-width="7.5"/>
<ellipse cx="667" cy="963" rx="30" ry="30" fill="#fff" stroke="#231f20" stroke-width="10.0"/>
<ellipse cx="679" cy="958" rx="22" ry="24" fill="#fff" stroke="#231f20" stroke-width="7.5"/>
<ellipse cx="765" cy="978" rx="30" ry="30" fill="#fff" stroke="#231f20" stroke-width="10.0"/>
<ellipse cx="777" cy="973" rx="22" ry="24" fill="#fff" stroke="#231f20" stroke-width="7.5"/>
<ellipse cx="845" cy="953" rx="30" ry="30" fill="#fff" stroke="#231f20" stroke-width="10.0"/>
<ellipse cx="857" cy="948" rx="22" ry="24" fill="#fff" stroke="#231f20" stroke-width="7.5"/>
<path d="M620,560 Q640,500 760,490 L930,560 L930,860 L760,900 Q640,890 610,820 L610,790 L665,790 L665,690 L600,690 L600,660 Z" fill="#fff" stroke="#231f20" stroke-width="11.2" stroke-linejoin="round" stroke-linecap="round" />
<path d="M665,690 L720,680 M665,790 L720,800 M620,700 L620,780" fill="none" stroke="#231f20" stroke-width="8.8" stroke-linejoin="round" stroke-linecap="round" />
<ellipse cx="800" cy="700" rx="110" ry="215" fill="#fff" stroke="#231f20" stroke-width="11.2"/>
<ellipse cx="830" cy="700" rx="100" ry="200" fill="#fff" stroke="#231f20" stroke-width="8.8"/>
<path d="M830,887 L874,849" fill="none" stroke="#231f20" stroke-width="10.0" stroke-linejoin="round" stroke-linecap="round" />
<path d="M812,880 L860,843" fill="none" stroke="#231f20" stroke-width="10.0" stroke-linejoin="round" stroke-linecap="round" />
<path d="M795,864 L846,831" fill="none" stroke="#231f20" stroke-width="10.0" stroke-linejoin="round" stroke-linecap="round" />
<path d="M780,842 L834,813" fill="none" stroke="#231f20" stroke-width="10.0" stroke-linejoin="round" stroke-linecap="round" />
<path d="M768,813 L824,790" fill="none" stroke="#231f20" stroke-width="10.0" stroke-linejoin="round" stroke-linecap="round" />
<path d="M758,779 L817,763" fill="none" stroke="#231f20" stroke-width="10.0" stroke-linejoin="round" stroke-linecap="round" />
<path d="M752,742 L812,734" fill="none" stroke="#231f20" stroke-width="10.0" stroke-linejoin="round" stroke-linecap="round" />
<path d="M750,703 L810,703" fill="none" stroke="#231f20" stroke-width="10.0" stroke-linejoin="round" stroke-linecap="round" />
<path d="M752,664 L811,671" fill="none" stroke="#231f20" stroke-width="10.0" stroke-linejoin="round" stroke-linecap="round" />
<path d="M757,627 L816,641" fill="none" stroke="#231f20" stroke-width="10.0" stroke-linejoin="round" stroke-linecap="round" />
<path d="M766,592 L823,614" fill="none" stroke="#231f20" stroke-width="10.0" stroke-linejoin="round" stroke-linecap="round" />
<path d="M778,563 L832,590" fill="none" stroke="#231f20" stroke-width="10.0" stroke-linejoin="round" stroke-linecap="round" />
<path d="M793,539 L844,571" fill="none" stroke="#231f20" stroke-width="10.0" stroke-linejoin="round" stroke-linecap="round" />
<path d="M809,522 L857,558" fill="none" stroke="#231f20" stroke-width="10.0" stroke-linejoin="round" stroke-linecap="round" />
<path d="M827,513 L871,551" fill="none" stroke="#231f20" stroke-width="10.0" stroke-linejoin="round" stroke-linecap="round" />
<ellipse cx="905" cy="700" rx="95" ry="165" fill="#fff" stroke="#231f20" stroke-width="11.2"/>
<ellipse cx="925" cy="700" rx="85" ry="148" fill="#fff" stroke="#231f20" stroke-width="7.5"/>
<ellipse cx="945" cy="705" rx="72" ry="122" fill="#fff" stroke="#231f20" stroke-width="10.0"/>
<ellipse cx="962" cy="708" rx="60" ry="100" fill="#fff" stroke="#231f20" stroke-width="7.5"/>
<path d="M880,900 Q940,920 1000,880 M820,1000 Q900,1000 960,960 M870,920 L860,1000 M940,900 L930,975" fill="none" stroke="#231f20" stroke-width="10.0" stroke-linejoin="round" stroke-linecap="round" />
<path d="M780,1060 Q860,1090 900,1060 L880,1130 M700,1050 Q760,1080 800,1070" fill="none" stroke="#231f20" stroke-width="8.8" stroke-linejoin="round" stroke-linecap="round" />
<path d="M470,1242 L800,1172 L880,1134 Q950,1118 985,1172 Q1025,1235 1020,1292 Q1040,1420 1066,1545 L1066,1562 L655,1562 L622,1442 Q560,1330 520,1312 L470,1292 Q448,1265 470,1242 Z" fill="#fff" stroke="#231f20" stroke-width="0.0" stroke-linejoin="round" stroke-linecap="round" />
<path d="M655,1562 L622,1442 Q560,1330 520,1312 L470,1292 Q448,1265 470,1242 L800,1172 L880,1134 Q950,1118 985,1172 Q1025,1235 1020,1292 Q1040,1420 1066,1545" fill="none" stroke="#231f20" stroke-width="11.2" stroke-linejoin="round" stroke-linecap="round" />
<path d="M540,1292 Q575,1250 640,1246 Q692,1250 692,1300 Q684,1380 628,1438 Q590,1345 540,1292 Z" fill="#fff" stroke="#231f20" stroke-width="10.0" stroke-linejoin="round" stroke-linecap="round" />
<path d="M700,1216 L800,1182 M722,1216 Q762,1300 742,1360 Q722,1412 645,1428 M655,1402 L695,1412" fill="none" stroke="#231f20" stroke-width="8.8" stroke-linejoin="round" stroke-linecap="round" />
<path d="M880,1160 Q935,1150 962,1192 M890,1140 L905,1165 M480,1562 L482,1530 L622,1475 Q700,1440 760,1500 L800,1562" fill="none" stroke="#231f20" stroke-width="10.0" stroke-linejoin="round" stroke-linecap="round" />
<path d="M965,630 L1215,642 L1215,805 L965,800 Q900,720 965,630 Z" fill="#fff" stroke="#231f20" stroke-width="11.2" stroke-linejoin="round" stroke-linecap="round" />
<path d="M1215,642 Q1250,640 1268,650 L1275,800 Q1250,812 1215,805" fill="#fff" stroke="#231f20" stroke-width="11.2" stroke-linejoin="round" stroke-linecap="round" />
<path d="M1215,642 Q1195,720 1215,805" fill="none" stroke="#231f20" stroke-width="7.5" stroke-linejoin="round" stroke-linecap="round" />
<path d="M1268,662 L1335,668 L1340,785 L1275,790 Z" fill="#fff" stroke="#231f20" stroke-width="10.0" stroke-linejoin="round" stroke-linecap="round" />
<path d="M1335,668 Q1320,725 1340,785 M1340,675 L1385,680 L1388,772 L1342,778" fill="#fff" stroke="#231f20" stroke-width="8.8" stroke-linejoin="round" stroke-linecap="round" />
</g>
<g transform="translate(2560 760) scale(0.18605)">
<path d="M160,1322 L215,1318 L218,1452 L162,1450 Z" fill="#fff" stroke="#231f20" stroke-width="8.4" stroke-linejoin="round" stroke-linecap="round" />
<path d="M225,1300 Q205,1380 232,1462 Q300,1515 400,1500 Q450,1490 472,1468 L745,1090 L990,740 Q960,700 990,640 L1030,600 L960,560 Q900,585 860,605 Q760,650 690,715 Z" fill="#fff" stroke="#231f20" stroke-width="0.0" stroke-linejoin="round" stroke-linecap="round" />
<path d="M472,1468 L745,1092 M225,1300 Q205,1380 232,1462 Q300,1515 400,1500 Q450,1490 472,1468 M225,1300 L690,715 Q760,650 860,605 Q920,580 960,560" fill="none" stroke="#231f20" stroke-width="13.2" stroke-linejoin="round" stroke-linecap="round" />
<path d="M330,1335 L640,932 M850,700 Q900,665 945,650 Q975,660 960,700 L945,770" fill="none" stroke="#231f20" stroke-width="8.4" stroke-linejoin="round" stroke-linecap="round" />
<path d="M990,640 L1030,600 L1045,620 L1030,655 L1000,650" fill="none" stroke="#231f20" stroke-width="7.2" stroke-linejoin="round" stroke-linecap="round" />
<ellipse cx="390" cy="1392" rx="88" ry="98" fill="#fff" stroke="#231f20" stroke-width="10.8" transform="rotate(-15 390 1392)"/>
<ellipse cx="405" cy="1390" rx="60" ry="72" fill="#fff" stroke="#231f20" stroke-width="8.4" transform="rotate(-15 405 1390)"/>
<ellipse cx="415" cy="1390" rx="42" ry="52" fill="#fff" stroke="#231f20" stroke-width="7.2" transform="rotate(-15 415 1390)"/>
<path d="M392,1372 L440,1372 M392,1398 L440,1398 M410,1385 L425,1385" fill="none" stroke="#231f20" stroke-width="9.6" stroke-linejoin="round" stroke-linecap="round" />
<circle cx="812" cy="905" r="160" fill="#fff" stroke="#231f20" stroke-width="6.0"/>
<path d="M770,770 Q700,860 730,980 Q750,1040 790,1060 M790,770 Q740,860 765,960 Q785,1020 830,1030 M700,850 L740,790" fill="none" stroke="#231f20" stroke-width="8.4" stroke-linejoin="round" stroke-linecap="round" />
<path d="M800,770 Q840,790 850,830 Q830,900 860,960 Q890,980 910,960 Q920,920 890,900 M930,800 L880,905" fill="none" stroke="#231f20" stroke-width="12.0" stroke-linejoin="round" stroke-linecap="round" />
<path d="M770,1050 Q830,1040 880,1000 Q900,985 905,965" fill="none" stroke="#231f20" stroke-width="14.4" stroke-linejoin="round" stroke-linecap="round" />
<line x1="868" y1="1095" x2="975" y2="1613" stroke="#231f20" stroke-width="4.8"/>
<path d="M1060,92 Q980,150 930,195 Q860,270 830,340 Q800,420 812,470 Q840,540 880,592 Q920,585 950,560 Q980,530 1000,500 Q990,560 1010,590 Q1040,610 1070,585 Q1100,540 1150,490 Q1210,430 1240,380 Q1270,310 1335,215 Z" fill="#fff" stroke="#231f20" stroke-width="0.0" stroke-linejoin="round" stroke-linecap="round" />
<path d="M1060,92 Q980,150 930,195 Q860,270 830,340 Q800,420 812,470 Q840,540 880,592 Q920,585 950,560 Q985,520 1010,440" fill="none" stroke="#231f20" stroke-width="8.4" stroke-linejoin="round" stroke-linecap="round" />
<path d="M1335,215 Q1270,310 1240,380 Q1210,430 1150,490 Q1100,540 1070,585 Q1040,610 1010,590 Q990,560 1000,500 Q1010,440 1060,400 Q1090,385 1115,372" fill="none" stroke="#231f20" stroke-width="8.4" stroke-linejoin="round" stroke-linecap="round" />
<path d="M850,385 Q835,450 870,535 M912,368 Q890,440 885,520 M1020,420 Q1000,480 975,510" fill="none" stroke="#231f20" stroke-width="7.2" stroke-linejoin="round" stroke-linecap="round" />
<ellipse cx="1046" cy="530" rx="22" ry="36" fill="#fff" stroke="#231f20" stroke-width="7.2" transform="rotate(25 1046 530)"/>
<path d="M1105,455 L1125,478 M1118,447 L1135,468" fill="none" stroke="#231f20" stroke-width="4.8" stroke-linejoin="round" stroke-linecap="round" />
<path d="M1098,742 Q1190,830 1215,935 L1285,930 L1210,1097 L1140,922 L1172,928 Q1155,850 1128,800 Q1115,775 1098,742 Z" fill="#ed1c24"/>
</g>
<line x1="2605" y1="892.6" x2="2552.2" y2="988.5" stroke="#ed1c24" stroke-width="1.9"/><polygon points="2544.6,1002.4 2549.1,979.8 2552.2,988.5 2561.3,986.5" fill="#ed1c24"/>
</svg>
<div class="lb" style="left:2570px;top:864.5px">专用工装</div>
<div class="lb" style="left:2637.5px;top:1096.5px">力矩要求小于<b style="font-weight:700">68N.m</b></div>

<svg width="2913" height="2047" viewBox="0 0 2913 2047">
<g transform="translate(2300 1320) scale(0.2439)">
<path d="M305,295 L1785,280 L1812,302 L1815,620 L1790,640 L320,655 Q255,640 238,560 Q228,470 240,385 Q258,315 305,295 Z" fill="#fff" stroke="#231f20" stroke-width="11" stroke-linejoin="round" stroke-linecap="round" />
<path d="M262,360 Q248,470 262,590" fill="none" stroke="#231f20" stroke-width="4" stroke-linejoin="round" stroke-linecap="round" />
<path d="M318,322 L795,314" fill="none" stroke="#231f20" stroke-width="8" stroke-linejoin="round" stroke-linecap="round" />
<path d="M330,331 L790,324" fill="none" stroke="#231f20" stroke-width="4" stroke-linejoin="round" stroke-linecap="round" />
<path d="M305,345 L770,340 Q795,351 770,362 L305,367 Q288,357 305,345 Z" fill="none" stroke="#231f20" stroke-width="8" stroke-linejoin="round" stroke-linecap="round" />
<path d="M305,394 L770,389 Q795,400 770,411 L305,416 Q288,406 305,394 Z" fill="none" stroke="#231f20" stroke-width="8" stroke-linejoin="round" stroke-linecap="round" />
<path d="M305,443 L770,438 Q795,449 770,460 L305,465 Q288,455 305,443 Z" fill="none" stroke="#231f20" stroke-width="8" stroke-linejoin="round" stroke-linecap="round" />
<path d="M305,493 L770,488 Q795,499 770,510 L305,515 Q288,505 305,493 Z" fill="none" stroke="#231f20" stroke-width="8" stroke-linejoin="round" stroke-linecap="round" />
<path d="M305,543 L770,538 Q795,549 770,560 L305,565 Q288,555 305,543 Z" fill="none" stroke="#231f20" stroke-width="8" stroke-linejoin="round" stroke-linecap="round" />
<path d="M305,594 L770,589 Q795,600 770,611 L305,616 Q288,606 305,594 Z" fill="none" stroke="#231f20" stroke-width="8" stroke-linejoin="round" stroke-linecap="round" />
<path d="M318,636 L795,634" fill="none" stroke="#231f20" stroke-width="8" stroke-linejoin="round" stroke-linecap="round" />
<path d="M330,627 L790,625" fill="none" stroke="#231f20" stroke-width="4" stroke-linejoin="round" stroke-linecap="round" />
<path d="M1815,345 L1840,340 L1840,588 L1815,585" fill="#fff" stroke="#231f20" stroke-width="7" stroke-linejoin="round" stroke-linecap="round" />
<path d="M1840,335 L1922,335 L1950,385 L1952,545 L1925,590 L1840,590 Z" fill="#fff" stroke="#231f20" stroke-width="10" stroke-linejoin="round" stroke-linecap="round" />
<path d="M1840,400 L1950,400 M1840,525 L1950,525" fill="none" stroke="#231f20" stroke-width="5" stroke-linejoin="round" stroke-linecap="round" />
<line x1="1875" y1="592" x2="1840" y2="832" stroke="#231f20" stroke-width="5"/>
<circle cx="1805" cy="1038" r="175" fill="#fff" stroke="#231f20" stroke-width="10"/>
<polygon points="1973,1038 1889,1183 1721,1183 1637,1038 1721,893 1889,893" fill="none" stroke="#231f20" stroke-width="5"/>
<circle cx="1805" cy="1038" r="116" fill="none" stroke="#231f20" stroke-width="5"/>
<circle cx="1805" cy="1038" r="96" fill="none" stroke="#231f20" stroke-width="5"/>
</g>
</svg>
<div class="lb" style="left:2538.5px;top:1345.5px">专用工装</div>

</body></html>
